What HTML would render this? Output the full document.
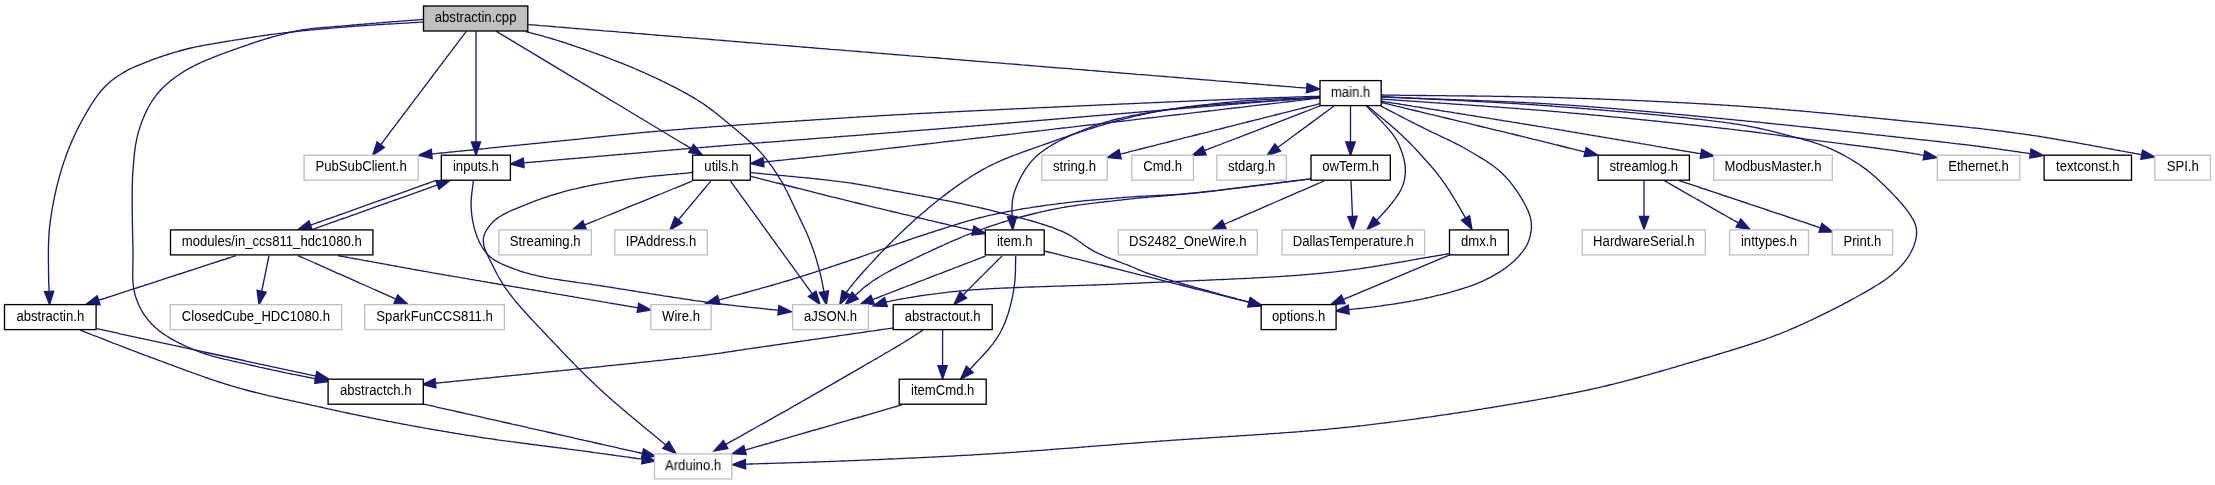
<!DOCTYPE html>
<html><head><meta charset="utf-8"><style>html,body{margin:0;padding:0;background:#fff;width:2215px;height:485px;overflow:hidden}svg{display:block;will-change:transform}text{font-family:"Liberation Sans",sans-serif;font-size:13.33px;fill:#000}</style></head><body>
<svg width="2215" height="485" viewBox="0 0 2215 485">
<g fill="none" stroke="#191970" stroke-width="1.33">
<path d="M423.5,22 421.5,22.1 419.5,22.2 417.5,22.4 415.5,22.5 413.5,22.6 411.5,22.7 409.5,22.8 407.5,23 405.5,23.1 403.5,23.2 401.5,23.3 399.5,23.4 397.5,23.5 395.5,23.7 393.5,23.8 391.5,23.9 389.5,24 387.5,24.1 385.5,24.2 383.5,24.4 381.5,24.5 379.5,24.6 377.5,24.7 375.5,24.8 373.5,25 371.5,25.1 369.5,25.2 367.5,25.4 365.5,25.5 363.5,25.6 361.5,25.8 359.5,25.9 357.5,26 355.5,26.2 353.5,26.3 351.5,26.5 349.5,26.6 347.5,26.8 345.5,27 343.5,27.1 341.5,27.3 339.6,27.4 337.6,27.6 335.6,27.8 333.6,27.9 331.6,28.1 329.6,28.3 327.6,28.5 325.6,28.6 323.6,28.8 321.6,29 319.6,29.2 317.6,29.4 315.6,29.6 313.6,29.8 311.6,29.9 309.6,30.1 307.6,30.3 305.6,30.5 303.6,30.7 301.7,30.9 299.7,31.1 297.7,31.4 295.7,31.6 293.7,31.8 291.7,32 289.7,32.2 287.7,32.5 285.7,32.7 283.7,32.9 281.8,33.2 279.8,33.4 277.8,33.7 275.8,33.9 273.8,34.2 271.8,34.4 269.8,34.7 267.8,35 265.9,35.3 263.9,35.5 261.9,35.8 259.9,36.1 257.9,36.4 256,36.7 254,37 252,37.3 250,37.7 248,38 246.1,38.3 244.1,38.6 242.1,39 240.1,39.3 238.2,39.6 236.2,39.9 234.2,40.2 232.2,40.6 230.3,40.9 228.3,41.2 226.3,41.5 224.3,41.8 222.3,42.1 220.4,42.5 218.4,42.8 216.4,43.1 214.4,43.5 212.5,43.8 210.5,44.1 208.5,44.5 206.5,44.8 204.6,45.2 202.6,45.6 200.6,46 198.7,46.3 196.7,46.7 194.8,47.2 192.8,47.6 190.8,48 188.9,48.5 186.9,49 185,49.5 183.1,50 181.1,50.5 179.2,51 177.3,51.6 175.4,52.1 173.4,52.7 171.5,53.3 169.6,53.9 167.7,54.5 165.8,55.1 163.9,55.7 162,56.4 160.1,57 158.2,57.7 156.3,58.4 154.4,59 152.6,59.7 150.7,60.4 148.8,61.1 146.9,61.8 145.1,62.6 143.2,63.3 141.4,64.1 139.5,64.8 137.7,65.6 135.8,66.4 134,67.2 132.1,68 130.3,68.9 128.5,69.7 126.8,70.7 125,71.6 123.3,72.6 121.6,73.7 119.9,74.7 118.2,75.8 116.6,77 114.9,78.1 113.3,79.3 111.7,80.5 110.2,81.8 108.7,83.1 107.2,84.5 105.4,86.2 103.7,88 102.3,89.5 101,91 99.7,92.5 98.5,94.1 97.3,95.7 96.1,97.3 95,99 93.9,100.6 92.8,102.3 91.7,104 90.6,105.7 89.5,107.4 88.5,109.1 87.5,110.8 86.5,112.6 85.5,114.3 84.5,116 83.5,117.8 82.6,119.5 81.6,121.3 80.7,123.1 79.7,124.8 78.8,126.6 77.9,128.4 77,130.2 76.1,132 75.3,133.8 74.4,135.6 73.6,137.4 72.8,139.3 71.9,141.1 71.1,142.9 70.4,144.8 69.6,146.6 68.9,148.5 68.1,150.3 67.4,152.2 66.7,154.1 66,156 65.3,157.9 64.7,159.7 64,161.6 63.4,163.5 62.7,165.4 62.1,167.3 61.5,169.3 61,171.2 60.4,173.1 59.8,175 59.3,177 58.8,178.9 58.3,180.8 57.8,182.8 57.3,184.7 56.8,186.7 56.3,188.6 55.9,190.6 55.5,192.5 55,194.5 54.6,196.4 54.2,198.4 53.8,200.3 53.4,202.3 53,204.3 52.7,206.2 52.3,208.2 52,210.2 51.7,212.2 51.4,214.1 51,216.1 50.8,218.1 50.5,220.1 50.2,222.1 50,224.1 49.7,226.1 49.5,228 49.3,230 49.1,232 49,234 48.9,236 48.7,238 48.7,240 48.6,242 48.5,244 48.5,246 48.4,248 48.4,250 48.4,252 48.4,254 48.4,256 48.4,258 48.4,260.1 48.4,262.1 48.5,264.1 48.5,266.1 48.5,268.1 48.5,270.1 48.5,272.1 48.6,274.1 48.6,276.1 48.6,278.1 48.7,280.1 48.7,282.1 48.8,284.1 48.9,286.1 49,288.1 49,290.1 49.1,291.3"/><path d="M423.5,19.3 421.5,19.5 419.5,19.6 417.5,19.8 415.5,20 413.5,20.1 411.5,20.3 409.5,20.4 407.5,20.6 405.5,20.8 403.5,20.9 401.5,21.1 399.5,21.2 397.5,21.4 395.6,21.6 393.6,21.7 391.6,21.9 389.6,22 387.6,22.2 385.6,22.4 383.6,22.5 381.6,22.7 379.6,22.8 377.6,23 375.6,23.2 373.6,23.3 371.6,23.5 369.6,23.7 367.6,23.8 365.6,24 363.6,24.2 361.6,24.3 359.6,24.5 357.6,24.7 355.6,24.9 353.6,25 351.6,25.2 349.6,25.4 347.7,25.6 345.7,25.7 343.7,25.9 341.7,26.1 339.7,26.2 337.7,26.4 335.7,26.5 333.7,26.7 331.7,26.8 329.7,27 327.7,27.1 325.7,27.3 323.7,27.4 321.7,27.6 319.7,27.8 317.7,28 315.7,28.2 313.7,28.4 311.7,28.6 309.7,28.8 307.8,29.1 305.8,29.4 303.8,29.7 301.8,30 299.9,30.4 297.9,30.7 295.9,31.1 294,31.5 292,32 290.1,32.4 288.1,32.8 286.2,33.3 284.2,33.8 282.3,34.3 280.3,34.8 278.4,35.3 276.5,35.8 274.5,36.4 272.6,36.9 270.7,37.5 268.8,38 266.8,38.6 264.9,39.2 263,39.8 261.1,40.4 259.2,41 257.3,41.6 255.4,42.2 253.5,42.9 251.6,43.5 249.7,44.1 247.8,44.8 245.9,45.4 244,46.1 242.1,46.8 240.2,47.4 238.3,48.1 236.5,48.8 234.6,49.4 232.7,50.1 230.8,50.8 228.9,51.5 227,52.2 225.2,52.8 223.3,53.5 221.4,54.2 219.5,54.9 217.7,55.7 215.8,56.4 213.9,57.1 212.1,57.9 210.2,58.6 208.3,59.4 206.5,60.1 204.7,60.9 202.8,61.7 201,62.5 199.2,63.4 197.4,64.2 195.6,65.1 193.8,66 192,66.9 190.2,67.8 188.5,68.8 186.7,69.8 185,70.8 183.3,71.9 181.6,73 179.9,74.1 178.3,75.2 176.6,76.3 175,77.5 173.4,78.7 171.8,79.9 170.3,81.1 168.7,82.4 167.2,83.7 165.7,85.1 164.2,86.4 162.8,87.8 161.4,89.3 160.1,90.7 158.7,92.2 157.4,93.7 156.2,95.3 155,96.9 153.8,98.5 152.6,100.2 151.6,101.8 150.5,103.5 149.5,105.3 148.5,107 147.6,108.8 146.7,110.6 145.8,112.4 145,114.2 144.2,116 143.4,117.9 142.6,119.7 141.9,121.6 141.2,123.5 140.6,125.4 139.9,127.2 139.3,129.2 138.7,131.1 138.2,133 137.7,134.9 137.2,136.9 136.8,138.8 136.4,140.8 136,142.8 135.6,144.7 135.3,146.7 135.1,148.7 134.8,150.7 134.5,152.7 134.3,154.6 134.1,156.6 133.9,158.6 133.8,160.6 133.6,162.6 133.4,164.6 133.3,166.6 133.1,168.6 133,170.6 132.8,172.6 132.7,174.6 132.6,176.6 132.5,178.6 132.5,180.6 132.4,182.6 132.3,184.6 132.3,186.6 132.2,188.6 132.2,190.6 132.2,192.6 132.2,194.6 132.2,196.6 132.2,198.6 132.2,200.6 132.2,202.6 132.2,204.6 132.2,206.6 132.2,208.6 132.2,210.6 132.2,212.7 132.3,214.7 132.3,216.7 132.3,218.7 132.4,220.7 132.4,222.7 132.4,224.7 132.5,226.7 132.5,228.7 132.6,230.7 132.6,232.7 132.6,234.7 132.7,236.7 132.7,238.7 132.8,240.7 132.8,242.7 132.9,244.7 132.9,246.7 133,248.7 133,250.7 133,252.7 133,254.7 133,256.7 133,258.7 133,260.7 132.9,262.7 132.9,264.7 132.8,266.7 132.8,268.7 132.8,270.7 132.7,272.7 132.7,274.7 132.8,276.7 132.8,278.7 132.9,280.7 133,282.7 133.2,284.7 133.5,287.2 133.9,289.7 134.4,292.1 135,294.5 135.7,296.9 136.5,299.3 137.4,301.6 138.3,303.9 139.4,306.2 140.5,308.5 141.7,310.6 143,312.8 144.3,314.9 145.8,316.9 147.3,318.9 148.9,320.9 150.5,322.7 152.2,324.6 154,326.3 155.9,328 157.8,329.6 159.3,330.9 160.9,332.1 162.5,333.2 164.2,334.4 165.9,335.5 167.6,336.5 169.3,337.6 171,338.6 172.7,339.6 174.5,340.6 176.3,341.5 178,342.4 179.8,343.3 181.6,344.2 183.4,345.1 185.2,345.9 187.1,346.8 188.9,347.6 190.7,348.4 192.6,349.2 194.4,349.9 196.3,350.7 198.1,351.4 200,352.1 201.9,352.8 203.8,353.4 205.7,354 207.6,354.6 209.5,355.2 211.4,355.8 213.4,356.3 215.3,356.8 217.2,357.3 219.2,357.8 221.1,358.3 223.1,358.8 225,359.3 227,359.7 228.9,360.2 230.9,360.6 232.8,361.1 234.8,361.5 236.7,361.9 238.7,362.4 240.6,362.8 242.6,363.2 244.6,363.7 246.5,364.1 248.5,364.6 250.4,365 252.4,365.5 254.3,365.9 256.3,366.4 258.2,366.8 260.2,367.3 262.1,367.7 264.1,368.1 266,368.6 268,369 269.9,369.4 271.9,369.9 273.9,370.3 275.8,370.7 277.8,371.1 279.7,371.5 281.7,371.9 283.7,372.3 285.6,372.8 287.6,373.2 289.5,373.6 291.5,374 293.5,374.4 295.4,374.7 297.4,375.1 299.4,375.5 301.3,375.9 303.3,376.3 305.2,376.7 307.2,377.1 309.2,377.5 311.1,377.9 313.1,378.3 315.1,378.7 315.8,378.8"/><path d="M466.4,31.2 465,33.1 463.6,34.9 462.2,36.8 460.7,38.7 459.3,40.6 457.9,42.4 456.5,44.3 455.1,46.2 453.7,48 452.3,49.9 450.9,51.8 449.4,53.7 448,55.5 446.6,57.4 445.2,59.3 443.8,61.1 442.4,63 441,64.9 439.6,66.7 438.1,68.6 436.7,70.5 435.3,72.4 433.9,74.2 432.5,76.1 431.1,78 429.7,79.8 428.3,81.7 426.8,83.6 425.4,85.5 424,87.3 422.6,89.2 421.2,91.1 419.8,92.9 418.4,94.8 417,96.7 415.5,98.6 414.1,100.4 412.7,102.3 411.3,104.2 409.9,106 408.5,107.9 407.1,109.8 405.7,111.6 404.2,113.5 402.8,115.4 401.4,117.3 400,119.1 398.6,121 397.2,122.9 395.8,124.7 394.4,126.6 392.9,128.5 391.5,130.4 390.1,132.2 388.7,134.1 387.3,136 385.9,137.8 384.5,139.7 383.1,141.6 381.6,143.5 380.7,144.7"/><path d="M476,31.2 476,33.7 476,36.2 476,38.7 476,41.2 476,43.7 476,46.2 476,48.7 476,51.2 476,53.7 476,56.1 476,58.6 476,61.1 476,63.6 476,66.1 476,68.6 476,71.1 476,73.6 476,76.1 476,78.6 476,81.1 476,83.6 476,86.1 476,88.6 476,91.1 476,93.6 476,96.1 476,98.6 476,101 476,103.5 476,106 476,108.5 476,111 476,113.5 476,116 476,118.5 476,121 476,123.5 476,126 476,128.5 476,131 476,133.5 476,136 476,138.5 476,141 476,142"/><path d="M496.1,31.2 498.2,32.4 500.2,33.7 502.3,34.9 504.4,36.2 506.5,37.4 508.5,38.7 510.6,39.9 512.7,41.2 514.8,42.4 516.8,43.7 518.9,44.9 521,46.2 523.1,47.4 525.1,48.7 527.2,49.9 529.3,51.2 531.4,52.4 533.4,53.7 535.5,54.9 537.6,56.1 539.7,57.4 541.7,58.6 543.8,59.9 545.9,61.1 548,62.4 550,63.6 552.1,64.9 554.2,66.1 556.3,67.4 558.3,68.6 560.4,69.9 562.5,71.1 564.6,72.4 566.6,73.6 568.7,74.9 570.8,76.1 572.9,77.3 574.9,78.6 577,79.8 579.1,81.1 581.1,82.3 583.2,83.6 585.3,84.8 587.4,86.1 589.4,87.3 591.5,88.6 593.6,89.8 595.7,91.1 597.7,92.3 599.8,93.6 601.9,94.8 604,96.1 606,97.3 608.1,98.6 610.2,99.8 612.3,101 614.3,102.3 616.4,103.5 618.5,104.8 620.6,106 622.6,107.3 624.7,108.5 626.8,109.8 628.9,111 630.9,112.3 633,113.5 635.1,114.8 637.2,116 639.2,117.3 641.3,118.5 643.4,119.8 645.5,121 647.5,122.2 649.6,123.5 651.7,124.7 653.8,126 655.8,127.2 657.9,128.5 660,129.7 662,131 664.1,132.2 666.2,133.5 668.3,134.7 670.3,136 672.4,137.2 674.5,138.5 676.6,139.7 678.6,141 680.7,142.2 682.8,143.5 684.9,144.7 686.9,145.9 689,147.2 691.1,148.4 691.1,148.4"/><path d="M525.8,31.5 527.7,32 529.7,32.6 531.6,33.1 533.5,33.6 535.5,34.1 537.4,34.7 539.3,35.2 541.3,35.7 543.2,36.2 545.1,36.8 547,37.3 549,37.8 550.9,38.4 552.8,39 554.7,39.6 556.6,40.2 558.6,40.8 560.5,41.4 562.4,42 564.3,42.6 566.2,43.2 568.1,43.9 570,44.5 571.9,45.1 573.8,45.8 575.7,46.4 577.6,47.1 579.5,47.7 581.3,48.4 583.2,49 585.1,49.7 587,50.3 588.9,51 590.8,51.7 592.7,52.3 594.6,53 596.4,53.7 598.3,54.4 600.2,55.1 602.1,55.7 604,56.4 605.8,57.1 607.7,57.8 609.6,58.5 611.5,59.3 613.3,60 615.2,60.7 617.1,61.4 618.9,62.2 620.8,62.9 622.7,63.6 624.5,64.4 626.4,65.1 628.2,65.9 630.1,66.7 631.9,67.4 633.8,68.2 635.6,69 637.4,69.8 639.3,70.6 641.1,71.4 642.9,72.2 644.8,73 646.6,73.9 648.4,74.7 650.2,75.5 652.1,76.4 653.9,77.2 655.7,78 657.5,78.9 659.3,79.7 661.1,80.6 662.9,81.5 664.7,82.3 666.5,83.2 668.3,84.1 670.1,85 671.9,85.9 673.7,86.8 675.5,87.7 677.2,88.7 679,89.6 680.8,90.5 682.5,91.5 684.3,92.4 686.1,93.4 687.8,94.4 689.5,95.4 691.3,96.4 693,97.4 694.7,98.4 696.4,99.5 698.1,100.5 699.8,101.6 701.5,102.7 703.2,103.8 704.8,104.9 706.4,106.1 708.1,107.2 709.7,108.4 711.3,109.6 712.9,110.8 714.5,112.1 716.1,113.3 717.6,114.5 719.2,115.8 720.7,117.1 722.3,118.3 723.8,119.6 725.4,120.9 726.9,122.1 728.5,123.4 730,124.7 731.5,126 733.1,127.3 734.6,128.5 736.2,129.8 737.7,131.1 739.2,132.4 740.8,133.7 742.3,135 743.8,136.3 745.3,137.6 746.8,138.9 748.3,140.2 749.8,141.6 751.3,143 752.7,144.3 754.2,145.7 755.6,147.1 757,148.5 758.4,150 759.8,151.4 761.1,152.9 762.4,154.4 763.7,155.9 765,157.5 766.3,159 767.5,160.6 768.7,162.2 769.9,163.8 771.1,165.4 772.3,167 773.4,168.7 774.5,170.4 775.6,172 776.7,173.7 777.8,175.4 778.9,177.1 779.9,178.8 780.9,180.5 782,182.2 783,184 783.9,185.7 784.9,187.5 785.8,189.3 786.7,191 787.6,192.8 788.5,194.6 789.4,196.4 790.2,198.2 791.1,200 791.9,201.9 792.8,203.7 793.6,205.5 794.5,207.3 795.3,209.1 796.2,210.9 797.1,212.7 797.9,214.5 798.8,216.3 799.7,218.1 800.5,219.9 801.4,221.7 802.3,223.5 803.1,225.4 804,227.2 804.8,229 805.7,230.8 806.5,232.6 807.3,234.5 808.1,236.3 808.8,238.2 809.6,240 810.3,241.9 811,243.7 811.7,245.6 812.4,247.5 813.1,249.4 813.7,251.3 814.4,253.2 815,255.1 815.6,257 816.2,258.9 816.8,260.8 817.3,262.7 817.9,264.7 818.4,266.6 818.9,268.5 819.4,270.5 819.9,272.4 820.4,274.4 820.9,276.3 821.3,278.3 821.7,280.2 822.1,282.2 822.5,284.1 822.9,286.1 823.3,288.1 823.6,290 824,292 824,291.7"/><path d="M528.3,24.6 532.3,24.9 536.3,25.2 540.2,25.6 544.2,25.9 548.2,26.2 552.2,26.5 556.1,26.9 560.1,27.2 564.1,27.5 568.1,27.8 572.1,28.2 576,28.5 580,28.8 584,29.1 588,29.5 592,29.8 595.9,30.1 599.9,30.4 603.9,30.8 607.9,31.1 611.8,31.4 615.8,31.7 619.8,32.1 623.8,32.4 627.8,32.7 631.7,33 635.7,33.4 639.7,33.7 643.7,34 647.7,34.3 651.6,34.7 655.6,35 659.6,35.3 663.6,35.6 667.5,36 671.5,36.3 675.5,36.6 679.5,36.9 683.5,37.3 687.4,37.6 691.4,37.9 695.4,38.2 699.4,38.6 703.3,38.9 707.3,39.2 711.3,39.5 715.3,39.9 719.3,40.2 723.2,40.5 727.2,40.8 731.2,41.2 735.2,41.5 739.2,41.8 743.1,42.1 747.1,42.5 751.1,42.8 755.1,43.1 759,43.4 763,43.8 767,44.1 771,44.4 775,44.7 778.9,45.1 782.9,45.4 786.9,45.7 790.9,46 794.9,46.3 798.8,46.7 802.8,47 806.8,47.3 810.8,47.6 814.7,48 818.7,48.3 822.7,48.6 826.7,48.9 830.7,49.3 834.6,49.6 838.6,49.9 842.6,50.2 846.6,50.6 850.5,50.9 854.5,51.2 858.5,51.5 862.5,51.9 866.5,52.2 870.4,52.5 874.4,52.8 878.4,53.2 882.4,53.5 886.4,53.8 890.3,54.1 894.3,54.5 898.3,54.8 902.3,55.1 906.2,55.4 910.2,55.8 914.2,56.1 918.2,56.4 922.2,56.7 926.1,57.1 930.1,57.4 934.1,57.7 938.1,58 942.1,58.4 946,58.7 950,59 954,59.3 958,59.7 961.9,60 965.9,60.3 969.9,60.6 973.9,61 977.9,61.3 981.8,61.6 985.8,61.9 989.8,62.3 993.8,62.6 997.8,62.9 1001.7,63.2 1005.7,63.6 1009.7,63.9 1013.7,64.2 1017.6,64.5 1021.6,64.9 1025.6,65.2 1029.6,65.5 1033.6,65.8 1037.5,66.2 1041.5,66.5 1045.5,66.8 1049.5,67.1 1053.4,67.5 1057.4,67.8 1061.4,68.1 1065.4,68.4 1069.4,68.7 1073.3,69.1 1077.3,69.4 1081.3,69.7 1085.3,70 1089.3,70.4 1093.2,70.7 1097.2,71 1101.2,71.3 1105.2,71.7 1109.1,72 1113.1,72.3 1117.1,72.6 1121.1,73 1125.1,73.3 1129,73.6 1133,73.9 1137,74.3 1141,74.6 1145,74.9 1148.9,75.2 1152.9,75.6 1156.9,75.9 1160.9,76.2 1164.8,76.5 1168.8,76.9 1172.8,77.2 1176.8,77.5 1180.8,77.8 1184.7,78.2 1188.7,78.5 1192.7,78.8 1196.7,79.1 1200.6,79.5 1204.6,79.8 1208.6,80.1 1212.6,80.4 1216.6,80.8 1220.5,81.1 1224.5,81.4 1228.5,81.7 1232.5,82.1 1236.5,82.4 1240.4,82.7 1244.4,83 1248.4,83.4 1252.4,83.7 1256.3,84 1260.3,84.3 1264.3,84.7 1268.3,85 1272.3,85.3 1276.2,85.6 1280.2,86 1284.2,86.3 1288.2,86.6 1292.2,86.9 1296.1,87.3 1300.1,87.6 1304.1,87.9 1308.1,88.2 1306.7,88.1"/><path d="M1320,96.2 1318,96.3 1316,96.3 1314,96.4 1312,96.5 1310,96.5 1308,96.6 1306,96.7 1304,96.7 1302,96.8 1300,96.9 1298,96.9 1296,97 1294,97.1 1292,97.1 1290,97.2 1288,97.3 1286,97.3 1284,97.4 1282,97.5 1280,97.5 1278,97.6 1276,97.7 1274,97.7 1272,97.8 1270,97.9 1268,97.9 1266,98 1264,98.1 1262,98.2 1260,98.2 1258,98.3 1256,98.4 1254,98.5 1252,98.5 1250,98.6 1248,98.7 1246,98.8 1244,98.8 1242,98.9 1240,99 1238,99.1 1236,99.2 1234,99.2 1232,99.3 1230,99.4 1228,99.5 1226,99.6 1224,99.7 1222,99.7 1220,99.8 1218,99.9 1216,100 1214,100.1 1212,100.2 1210,100.2 1208,100.3 1206,100.4 1204,100.5 1202,100.6 1200,100.7 1198,100.7 1196,100.8 1194,100.9 1192,101 1190,101.1 1188,101.2 1186,101.3 1184,101.3 1182,101.4 1180,101.5 1178,101.6 1176,101.7 1174,101.8 1172,101.9 1170,101.9 1168,102 1166,102.1 1164,102.2 1162,102.3 1160,102.4 1158,102.5 1156,102.5 1154,102.6 1152,102.7 1150,102.8 1148,102.9 1146,103 1144,103.1 1142,103.2 1140,103.2 1138,103.3 1136,103.4 1134,103.5 1132,103.6 1130,103.7 1128,103.8 1126,103.9 1124,103.9 1122,104 1120,104.1 1118,104.2 1116,104.3 1114,104.4 1112,104.5 1110,104.6 1108,104.7 1106,104.7 1104,104.8 1102,104.9 1100,105 1098,105.1 1096,105.2 1094,105.3 1092,105.4 1090,105.5 1088,105.6 1086,105.6 1084,105.7 1082,105.8 1080,105.9 1078,106 1076,106.1 1074,106.2 1072,106.3 1070,106.4 1068,106.5 1066,106.5 1064,106.6 1062,106.7 1060,106.8 1058,106.9 1056,107 1054,107.1 1052,107.2 1050,107.3 1048,107.4 1046,107.5 1044,107.5 1042,107.6 1040,107.7 1038,107.8 1036,107.9 1034,108 1032,108.1 1030,108.2 1028,108.3 1026,108.4 1024,108.5 1022,108.6 1020,108.7 1018,108.7 1016,108.8 1014,108.9 1012,109 1010,109.1 1008,109.2 1006,109.3 1004,109.4 1002,109.5 1000,109.6 998,109.7 996,109.8 994,109.9 992,110 990,110.1 988,110.2 986,110.2 984,110.3 982,110.4 980,110.5 978,110.6 976,110.7 974,110.8 972,110.9 970,111 968,111.1 966,111.2 964,111.3 962.1,111.4 960.1,111.5 958.1,111.6 956.1,111.7 954.1,111.8 952.1,111.9 950.1,112 948.1,112.1 946.1,112.2 944.1,112.3 942.1,112.4 940.1,112.5 938.1,112.6 936.1,112.7 934.1,112.8 932.1,112.9 930.1,113 928.1,113.1 926.1,113.2 924.1,113.3 922.1,113.4 920.1,113.5 918.1,113.6 916.1,113.7 914.1,113.8 912.1,113.9 910.1,114 908.1,114.2 906.1,114.3 904.1,114.4 902.1,114.5 900.1,114.6 898.1,114.7 896.1,114.8 894.1,114.9 892.1,115 890.1,115.1 888.1,115.3 886.1,115.4 884.1,115.5 882.1,115.6 880.1,115.7 878.1,115.8 876.1,116 874.1,116.1 872.1,116.2 870.1,116.3 868.1,116.4 866.1,116.6 864.1,116.7 862.1,116.8 860.1,116.9 858.1,117 856.1,117.2 854.1,117.3 852.1,117.4 850.1,117.5 848.1,117.7 846.1,117.8 844.1,117.9 842.1,118.1 840.1,118.2 838.1,118.3 836.2,118.4 834.2,118.6 832.2,118.7 830.2,118.8 828.2,119 826.2,119.1 824.2,119.2 822.2,119.3 820.2,119.5 818.2,119.6 816.2,119.7 814.2,119.9 812.2,120 810.2,120.1 808.2,120.3 806.2,120.4 804.2,120.5 802.2,120.6 800.2,120.8 798.2,120.9 796.2,121 794.2,121.2 792.2,121.3 790.2,121.4 788.2,121.6 786.2,121.7 784.2,121.8 782.2,122 780.2,122.1 778.2,122.2 776.2,122.4 774.2,122.5 772.2,122.7 770.2,122.8 768.2,122.9 766.3,123.1 764.3,123.2 762.3,123.3 760.3,123.5 758.3,123.6 756.3,123.8 754.3,123.9 752.3,124 750.3,124.2 748.3,124.3 746.3,124.4 744.3,124.6 742.3,124.7 740.3,124.9 738.3,125 736.3,125.1 734.3,125.3 732.3,125.4 730.3,125.6 728.3,125.7 726.3,125.9 724.3,126 722.3,126.2 720.3,126.3 718.3,126.4 716.3,126.6 714.3,126.7 712.3,126.9 710.3,127 708.4,127.2 706.4,127.3 704.4,127.5 702.4,127.6 700.4,127.8 698.4,127.9 696.4,128.1 694.4,128.2 692.4,128.4 690.4,128.5 688.4,128.7 686.4,128.9 684.4,129 682.4,129.2 680.4,129.3 678.4,129.5 676.4,129.6 674.4,129.8 672.4,130 670.4,130.1 668.4,130.3 666.4,130.5 664.5,130.6 662.5,130.8 660.5,131 658.5,131.1 656.5,131.3 654.5,131.5 652.5,131.7 650.5,131.8 648.5,132 646.5,132.2 644.5,132.4 642.5,132.6 640.5,132.7 638.5,132.9 636.5,133.1 634.6,133.3 632.6,133.5 630.6,133.7 628.6,133.9 626.6,134.1 624.6,134.3 622.6,134.5 620.6,134.7 618.6,134.9 616.6,135.1 614.6,135.3 612.6,135.5 610.7,135.7 608.7,135.9 606.7,136.1 604.7,136.3 602.7,136.5 600.7,136.8 598.7,137 596.7,137.2 594.7,137.4 592.7,137.6 590.7,137.8 588.8,138 586.8,138.2 584.8,138.4 582.8,138.6 580.8,138.9 578.8,139.1 576.8,139.3 574.8,139.5 572.8,139.7 570.8,139.9 568.8,140.1 566.9,140.3 564.9,140.5 562.9,140.7 560.9,140.9 558.9,141.1 556.9,141.3 554.9,141.5 552.9,141.7 550.9,141.9 548.9,142.1 546.9,142.3 545,142.5 543,142.7 541,142.9 539,143.1 537,143.3 535,143.5 533,143.7 531,143.9 529,144.1 527,144.3 525,144.5 523,144.7 521.1,144.9 519.1,145.1 517.1,145.3 515.1,145.5 513.1,145.7 511.1,145.9 509.1,146.1 507.1,146.3 505.1,146.5 503.1,146.7 501.1,146.9 499.2,147.1 497.2,147.3 495.2,147.5 493.2,147.7 491.2,147.9 489.2,148.1 487.2,148.3 485.2,148.6 483.2,148.8 481.2,149 479.2,149.2 477.2,149.4 475.3,149.6 473.3,149.8 471.3,150 469.3,150.2 467.3,150.4 465.3,150.6 463.3,150.8 461.3,151 459.3,151.2 457.3,151.4 455.3,151.6 453.3,151.8 451.4,152 449.4,152.2 447.4,152.4 445.4,152.6 443.4,152.8 441.4,153 439.4,153.2 437.4,153.4 435.4,153.6 433.4,153.8 431.4,154 431.7,154"/><path d="M1320,97 1318,97.2 1316,97.3 1314,97.5 1312,97.7 1310,97.8 1308,98 1306,98.2 1304,98.3 1302,98.5 1300,98.7 1298.1,98.8 1296.1,99 1294.1,99.2 1292.1,99.3 1290.1,99.5 1288.1,99.7 1286.1,99.8 1284.1,100 1282.1,100.2 1280.1,100.3 1278.1,100.5 1276.1,100.7 1274.1,100.8 1272.1,101 1270.1,101.2 1268.1,101.3 1266.1,101.5 1264.1,101.7 1262.1,101.8 1260.1,102 1258.1,102.2 1256.2,102.3 1254.2,102.5 1252.2,102.7 1250.2,102.8 1248.2,103 1246.2,103.2 1244.2,103.3 1242.2,103.5 1240.2,103.7 1238.2,103.8 1236.2,104 1234.2,104.2 1232.2,104.3 1230.2,104.5 1228.2,104.7 1226.2,104.8 1224.2,105 1222.2,105.2 1220.2,105.3 1218.2,105.5 1216.3,105.7 1214.3,105.8 1212.3,106 1210.3,106.2 1208.3,106.3 1206.3,106.5 1204.3,106.7 1202.3,106.9 1200.3,107 1198.3,107.2 1196.3,107.4 1194.3,107.5 1192.3,107.7 1190.3,107.9 1188.3,108 1186.3,108.2 1184.3,108.4 1182.3,108.5 1180.3,108.7 1178.3,108.9 1176.3,109 1174.4,109.2 1172.4,109.4 1170.4,109.5 1168.4,109.7 1166.4,109.9 1164.4,110 1162.4,110.2 1160.4,110.4 1158.4,110.5 1156.4,110.7 1154.4,110.9 1152.4,111 1150.4,111.2 1148.4,111.4 1146.4,111.5 1144.4,111.7 1142.4,111.9 1140.4,112 1138.4,112.2 1136.4,112.4 1134.4,112.5 1132.5,112.7 1130.5,112.9 1128.5,113 1126.5,113.2 1124.5,113.4 1122.5,113.5 1120.5,113.7 1118.5,113.9 1116.5,114 1114.5,114.2 1112.5,114.4 1110.5,114.5 1108.5,114.7 1106.5,114.9 1104.5,115 1102.5,115.2 1100.5,115.4 1098.5,115.5 1096.5,115.7 1094.5,115.9 1092.6,116 1090.6,116.2 1088.6,116.4 1086.6,116.5 1084.6,116.7 1082.6,116.9 1080.6,117 1078.6,117.2 1076.6,117.4 1074.6,117.5 1072.6,117.7 1070.6,117.9 1068.6,118 1066.6,118.2 1064.6,118.4 1062.6,118.5 1060.6,118.7 1058.6,118.9 1056.6,119 1054.6,119.2 1052.6,119.4 1050.7,119.5 1048.7,119.7 1046.7,119.9 1044.7,120 1042.7,120.2 1040.7,120.4 1038.7,120.5 1036.7,120.7 1034.7,120.9 1032.7,121 1030.7,121.2 1028.7,121.4 1026.7,121.5 1024.7,121.7 1022.7,121.9 1020.7,122 1018.7,122.2 1016.7,122.4 1014.7,122.5 1012.7,122.7 1010.7,122.9 1008.8,123 1006.8,123.2 1004.8,123.4 1002.8,123.5 1000.8,123.7 998.8,123.9 996.8,124 994.8,124.2 992.8,124.4 990.8,124.5 988.8,124.7 986.8,124.9 984.8,125 982.8,125.2 980.8,125.3 978.8,125.5 976.8,125.7 974.8,125.8 972.8,126 970.8,126.2 968.8,126.3 966.8,126.5 964.9,126.7 962.9,126.8 960.9,127 958.9,127.2 956.9,127.3 954.9,127.5 952.9,127.6 950.9,127.8 948.9,128 946.9,128.1 944.9,128.3 942.9,128.5 940.9,128.6 938.9,128.8 936.9,129 934.9,129.1 932.9,129.3 930.9,129.4 928.9,129.6 926.9,129.8 924.9,129.9 922.9,130.1 921,130.2 919,130.4 917,130.6 915,130.7 913,130.9 911,131 909,131.2 907,131.4 905,131.5 903,131.7 901,131.8 899,132 897,132.2 895,132.3 893,132.5 891,132.6 889,132.8 887,132.9 885,133.1 883,133.3 881,133.4 879,133.6 877,133.7 875,133.9 873.1,134 871.1,134.2 869.1,134.4 867.1,134.5 865.1,134.7 863.1,134.8 861.1,135 859.1,135.1 857.1,135.3 855.1,135.5 853.1,135.6 851.1,135.8 849.1,135.9 847.1,136.1 845.1,136.2 843.1,136.4 841.1,136.5 839.1,136.7 837.1,136.9 835.1,137 833.1,137.2 831.1,137.3 829.1,137.5 827.1,137.6 825.1,137.8 823.2,137.9 821.2,138.1 819.2,138.2 817.2,138.4 815.2,138.6 813.2,138.7 811.2,138.9 809.2,139 807.2,139.2 805.2,139.3 803.2,139.5 801.2,139.6 799.2,139.8 797.2,139.9 795.2,140.1 793.2,140.2 791.2,140.4 789.2,140.5 787.2,140.7 785.2,140.8 783.2,141 781.2,141.1 779.2,141.3 777.2,141.5 775.2,141.6 773.2,141.8 771.2,141.9 769.2,142.1 767.3,142.2 765.3,142.4 763.3,142.5 761.3,142.7 759.3,142.8 757.3,143 755.3,143.2 753.3,143.3 751.3,143.5 749.3,143.6 747.3,143.8 745.3,143.9 743.3,144.1 741.3,144.3 739.3,144.4 737.3,144.6 735.3,144.7 733.3,144.9 731.3,145.1 729.3,145.2 727.3,145.4 725.3,145.5 723.3,145.7 721.3,145.9 719.4,146 717.4,146.2 715.4,146.4 713.4,146.5 711.4,146.7 709.4,146.9 707.4,147 705.4,147.2 703.4,147.3 701.4,147.5 699.4,147.7 697.4,147.8 695.4,148 693.4,148.2 691.4,148.4 689.4,148.5 687.4,148.7 685.4,148.9 683.4,149 681.4,149.2 679.4,149.4 677.5,149.5 675.5,149.7 673.5,149.9 671.5,150 669.5,150.2 667.5,150.4 665.5,150.6 663.5,150.7 661.5,150.9 659.5,151.1 657.5,151.2 655.5,151.4 653.5,151.6 651.5,151.8 649.5,151.9 647.5,152.1 645.5,152.3 643.5,152.4 641.5,152.6 639.6,152.8 637.6,153 635.6,153.1 633.6,153.3 631.6,153.5 629.6,153.6 627.6,153.8 625.6,154 623.6,154.2 621.6,154.3 619.6,154.5 617.6,154.7 615.6,154.9 613.6,155 611.6,155.2 609.6,155.4 607.6,155.6 605.6,155.7 603.6,155.9 601.7,156.1 599.7,156.2 597.7,156.4 595.7,156.6 593.7,156.8 591.7,156.9 589.7,157.1 587.7,157.3 585.7,157.5 583.7,157.6 581.7,157.8 579.7,158 577.7,158.2 575.7,158.3 573.7,158.5 571.7,158.7 569.7,158.9 567.7,159 565.8,159.2 563.8,159.4 561.8,159.6 559.8,159.7 557.8,159.9 555.8,160.1 553.8,160.2 551.8,160.4 549.8,160.6 547.8,160.8 545.8,160.9 543.8,161.1 541.8,161.3 539.8,161.5 537.8,161.6 535.8,161.8 533.8,162 531.8,162.1 529.8,162.3 527.9,162.5 525.9,162.7 523.9,162.8 523.7,162.9"/><path d="M1320,98 1318,98.2 1316,98.5 1314,98.7 1312,98.9 1310.1,99.2 1308.1,99.4 1306.1,99.6 1304.1,99.9 1302.1,100.1 1300.1,100.3 1298.1,100.6 1296.1,100.8 1294.1,101 1292.1,101.3 1290.2,101.5 1288.2,101.7 1286.2,102 1284.2,102.2 1282.2,102.4 1280.2,102.7 1278.2,102.9 1276.2,103.1 1274.2,103.3 1272.2,103.6 1270.3,103.8 1268.3,104 1266.3,104.3 1264.3,104.5 1262.3,104.7 1260.3,105 1258.3,105.2 1256.3,105.4 1254.3,105.7 1252.3,105.9 1250.4,106.1 1248.4,106.4 1246.4,106.6 1244.4,106.8 1242.4,107.1 1240.4,107.3 1238.4,107.5 1236.4,107.8 1234.4,108 1232.4,108.2 1230.5,108.5 1228.5,108.7 1226.5,108.9 1224.5,109.2 1222.5,109.4 1220.5,109.6 1218.5,109.9 1216.5,110.1 1214.5,110.3 1212.6,110.6 1210.6,110.8 1208.6,111 1206.6,111.3 1204.6,111.5 1202.6,111.7 1200.6,112 1198.6,112.2 1196.6,112.4 1194.6,112.7 1192.7,112.9 1190.7,113.1 1188.7,113.4 1186.7,113.6 1184.7,113.8 1182.7,114.1 1180.7,114.3 1178.7,114.5 1176.7,114.8 1174.7,115 1172.8,115.2 1170.8,115.5 1168.8,115.7 1166.8,115.9 1164.8,116.1 1162.8,116.4 1160.8,116.6 1158.8,116.8 1156.8,117.1 1154.8,117.3 1152.9,117.5 1150.9,117.8 1148.9,118 1146.9,118.2 1144.9,118.5 1142.9,118.7 1140.9,118.9 1138.9,119.2 1136.9,119.4 1135,119.6 1133,119.9 1131,120.1 1129,120.3 1127,120.6 1125,120.8 1123,121 1121,121.3 1119,121.5 1117,121.7 1115.1,122 1113.1,122.2 1111.1,122.4 1109.1,122.7 1107.1,122.9 1105.1,123.1 1103.1,123.4 1101.1,123.6 1099.1,123.8 1097.1,124.1 1095.2,124.3 1093.2,124.5 1091.2,124.8 1089.2,125 1087.2,125.2 1085.2,125.5 1083.2,125.7 1081.2,125.9 1079.2,126.2 1077.2,126.4 1075.3,126.6 1073.3,126.9 1071.3,127.1 1069.3,127.3 1067.3,127.6 1065.3,127.8 1063.3,128 1061.3,128.2 1059.3,128.5 1057.3,128.7 1055.4,128.9 1053.4,129.2 1051.4,129.4 1049.4,129.6 1047.4,129.9 1045.4,130.1 1043.4,130.3 1041.4,130.6 1039.4,130.8 1037.5,131 1035.5,131.3 1033.5,131.5 1031.5,131.7 1029.5,132 1027.5,132.2 1025.5,132.4 1023.5,132.7 1021.5,132.9 1019.5,133.1 1017.6,133.4 1015.6,133.6 1013.6,133.8 1011.6,134.1 1009.6,134.3 1007.6,134.5 1005.6,134.8 1003.6,135 1001.6,135.2 999.6,135.5 997.7,135.7 995.7,135.9 993.7,136.1 991.7,136.4 989.7,136.6 987.7,136.8 985.7,137.1 983.7,137.3 981.7,137.5 979.7,137.8 977.8,138 975.8,138.2 973.8,138.5 971.8,138.7 969.8,138.9 967.8,139.2 965.8,139.4 963.8,139.6 961.8,139.9 959.8,140.1 957.9,140.3 955.9,140.6 953.9,140.8 951.9,141 949.9,141.2 947.9,141.5 945.9,141.7 943.9,141.9 941.9,142.2 939.9,142.4 938,142.6 936,142.9 934,143.1 932,143.3 930,143.6 928,143.8 926,144 924,144.3 922,144.5 920,144.7 918.1,145 916.1,145.2 914.1,145.4 912.1,145.7 910.1,145.9 908.1,146.1 906.1,146.4 904.1,146.6 902.1,146.8 900.1,147 898.2,147.3 896.2,147.5 894.2,147.7 892.2,148 890.2,148.2 888.2,148.4 886.2,148.7 884.2,148.9 882.2,149.1 880.3,149.4 878.3,149.6 876.3,149.8 874.3,150.1 872.3,150.3 870.3,150.5 868.3,150.7 866.3,151 864.3,151.2 862.3,151.4 860.3,151.7 858.4,151.9 856.4,152.1 854.4,152.3 852.4,152.5 850.4,152.8 848.4,153 846.4,153.2 844.4,153.4 842.4,153.7 840.4,153.9 838.4,154.1 836.5,154.3 834.5,154.5 832.5,154.8 830.5,155 828.5,155.2 826.5,155.4 824.5,155.6 822.5,155.8 820.5,156.1 818.5,156.3 816.5,156.5 814.5,156.7 812.6,156.9 810.6,157.1 808.6,157.3 806.6,157.5 804.6,157.8 802.6,158 800.6,158.2 798.6,158.4 796.6,158.6 794.6,158.8 792.6,159 790.6,159.2 788.7,159.4 786.7,159.7 784.7,159.9 782.7,160.1 780.7,160.3 778.7,160.5 776.7,160.7 774.7,160.9 772.7,161.1 770.7,161.3 768.7,161.5 766.7,161.8 764.7,162 763.5,162.1"/><path d="M1320,103.7 1317.9,104.2 1315.7,104.8 1313.6,105.3 1311.4,105.9 1309.3,106.4 1307.2,106.9 1305,107.5 1302.9,108 1300.8,108.6 1298.6,109.1 1296.5,109.6 1294.3,110.2 1292.2,110.7 1290.1,111.3 1287.9,111.8 1285.8,112.3 1283.6,112.9 1281.5,113.4 1279.4,114 1277.2,114.5 1275.1,115 1272.9,115.6 1270.8,116.1 1268.7,116.7 1266.5,117.2 1264.4,117.7 1262.3,118.3 1260.1,118.8 1258,119.4 1255.8,119.9 1253.7,120.4 1251.6,121 1249.4,121.5 1247.3,122 1245.1,122.6 1243,123.1 1240.9,123.7 1238.7,124.2 1236.6,124.7 1234.5,125.3 1232.3,125.8 1230.2,126.4 1228,126.9 1225.9,127.4 1223.8,128 1221.6,128.5 1219.5,129.1 1217.3,129.6 1215.2,130.1 1213.1,130.7 1210.9,131.2 1208.8,131.8 1206.6,132.3 1204.5,132.8 1202.4,133.4 1200.2,133.9 1198.1,134.5 1196,135 1193.8,135.5 1191.7,136.1 1189.5,136.6 1187.4,137.2 1185.3,137.7 1183.1,138.2 1181,138.8 1178.8,139.3 1176.7,139.9 1174.6,140.4 1172.4,140.9 1170.3,141.5 1168.2,142 1166,142.6 1163.9,143.1 1161.7,143.6 1159.6,144.2 1157.5,144.7 1155.3,145.3 1153.2,145.8 1151,146.3 1148.9,146.9 1146.8,147.4 1144.6,148 1142.5,148.5 1140.3,149 1138.2,149.6 1136.1,150.1 1133.9,150.7 1131.8,151.2 1129.7,151.7 1127.5,152.3 1125.4,152.8 1123.2,153.4 1121.1,153.9 1120.1,154.1"/><path d="M1320,106 1318.1,106.7 1316.1,107.5 1314.2,108.2 1312.3,109 1310.4,109.7 1308.4,110.5 1306.5,111.2 1304.6,112 1302.6,112.7 1300.7,113.4 1298.8,114.2 1296.8,114.9 1294.9,115.7 1293,116.4 1291.1,117.2 1289.1,117.9 1287.2,118.7 1285.3,119.4 1283.3,120.1 1281.4,120.9 1279.5,121.6 1277.5,122.4 1275.6,123.1 1273.7,123.9 1271.8,124.6 1269.8,125.4 1267.9,126.1 1266,126.9 1264,127.6 1262.1,128.3 1260.2,129.1 1258.3,129.8 1256.3,130.6 1254.4,131.3 1252.5,132.1 1250.5,132.8 1248.6,133.6 1246.7,134.3 1244.7,135 1242.8,135.8 1240.9,136.5 1239,137.3 1237,138 1235.1,138.8 1233.2,139.5 1231.2,140.3 1229.3,141 1227.4,141.7 1225.4,142.5 1223.5,143.2 1221.6,144 1219.7,144.7 1217.7,145.5 1215.8,146.2 1213.9,147 1211.9,147.7 1210,148.4 1208.1,149.2 1206.2,149.9 1204.2,150.7 1204.4,150.6"/><path d="M1334,106 1332.3,107.2 1330.6,108.5 1328.9,109.7 1327.3,111 1325.6,112.2 1323.9,113.4 1322.2,114.7 1320.5,115.9 1318.8,117.2 1317.2,118.4 1315.5,119.7 1313.8,120.9 1312.1,122.1 1310.4,123.4 1308.7,124.6 1307.1,125.9 1305.4,127.1 1303.7,128.3 1302,129.6 1300.3,130.8 1298.6,132.1 1297,133.3 1295.3,134.5 1293.6,135.8 1291.9,137 1290.2,138.3 1288.5,139.5 1286.9,140.8 1285.2,142 1283.5,143.2 1281.8,144.5 1280.1,145.7 1278.4,147 1277.7,147.5"/><path d="M1350.5,106 1350.5,108.2 1350.5,110.5 1350.5,112.7 1350.5,114.9 1350.5,117.1 1350.5,119.4 1350.5,121.6 1350.5,123.8 1350.5,126.1 1350.5,128.3 1350.5,130.5 1350.5,132.8 1350.5,135 1350.5,137.2 1350.5,139.4 1350.5,141.7 1350.5,142"/><path d="M1366.2,105.9 1367.6,107.3 1369.1,108.7 1370.5,110.2 1371.9,111.6 1373.3,113 1374.8,114.4 1376.2,115.8 1377.6,117.2 1379,118.7 1380.4,120.1 1381.8,121.6 1383.2,123.1 1384.5,124.6 1385.9,126.1 1387.2,127.6 1388.5,129.1 1389.8,130.6 1391.1,132.2 1392.4,133.8 1393.5,135.4 1394.7,137 1395.7,138.7 1396.8,140.5 1397.7,142.2 1398.6,144 1399.4,145.9 1400.2,147.7 1400.9,149.6 1401.6,151.5 1402.3,153.4 1402.9,155.3 1403.4,157.2 1403.9,159.2 1404.3,161.1 1404.7,163.1 1405,165.1 1405.2,167.1 1405.3,169.1 1405.4,171.1 1405.3,173.1 1405.1,175.1 1404.9,177.1 1404.5,179.1 1404.1,181 1403.6,183 1402.9,184.9 1402.2,186.7 1401.4,188.6 1400.6,190.4 1399.6,192.1 1398.6,193.9 1397.5,195.5 1396.3,197.2 1395.2,198.8 1394,200.4 1392.7,202 1391.5,203.6 1390.2,205.2 1388.9,206.7 1387.6,208.3 1386.3,209.8 1385,211.3 1383.7,212.8 1382.3,214.3 1380.9,215.8 1379.5,217.2 1378.1,218.7 1376.7,220.1 1376.5,220.3"/><path d="M1367.4,106 1368.9,107.3 1370.5,108.6 1372,109.8 1373.6,111.1 1375.2,112.4 1376.7,113.7 1378.3,115 1379.8,116.2 1381.4,117.5 1382.9,118.8 1384.5,120.1 1386,121.4 1387.6,122.6 1389.1,123.9 1390.6,125.2 1392.2,126.6 1393.7,127.9 1395.2,129.2 1396.7,130.6 1398.2,131.9 1399.6,133.3 1401.1,134.6 1402.6,136 1404,137.4 1405.5,138.8 1406.9,140.2 1408.4,141.6 1409.8,143 1411.2,144.5 1412.6,145.9 1414,147.4 1415.4,148.8 1416.7,150.3 1418.1,151.8 1419.5,153.2 1420.8,154.7 1422.2,156.2 1423.5,157.7 1424.9,159.2 1426.2,160.7 1427.6,162.2 1428.9,163.7 1430.2,165.2 1431.5,166.8 1432.8,168.3 1434.1,169.8 1435.4,171.4 1436.6,172.9 1437.9,174.5 1439.1,176.1 1440.4,177.7 1441.6,179.3 1442.7,180.9 1443.9,182.6 1445.1,184.2 1446.2,185.9 1447.3,187.6 1448.4,189.2 1449.5,190.9 1450.6,192.6 1451.6,194.3 1452.7,196.1 1453.7,197.8 1454.8,199.5 1455.8,201.2 1456.8,203 1457.9,204.7 1458.9,206.4 1459.9,208.1 1460.9,209.9 1461.9,211.6 1462.9,213.4 1463.9,215.1 1464.9,216.8 1465.6,218"/><path d="M1381,106.2 1382.8,107.1 1384.6,108 1386.3,108.9 1388.1,109.9 1389.9,110.8 1391.7,111.7 1393.5,112.6 1395.2,113.5 1397,114.5 1398.8,115.4 1400.6,116.3 1402.4,117.2 1404.1,118.1 1405.9,119 1407.7,120 1409.5,120.9 1411.3,121.8 1413.1,122.7 1414.8,123.6 1416.6,124.5 1418.4,125.4 1420.2,126.3 1422,127.2 1423.8,128.1 1425.6,129 1427.4,129.9 1429.2,130.8 1431,131.6 1432.8,132.5 1434.6,133.3 1436.4,134.2 1438.2,135 1440,135.9 1441.8,136.8 1443.7,137.6 1445.5,138.5 1447.3,139.3 1449.1,140.2 1450.9,141.1 1452.7,142 1454.5,142.9 1456.3,143.8 1458,144.7 1459.8,145.6 1461.6,146.5 1463.3,147.5 1465.1,148.5 1466.8,149.5 1468.6,150.5 1470.3,151.5 1472,152.5 1473.8,153.5 1475.5,154.5 1477.2,155.5 1478.9,156.6 1480.6,157.6 1482.3,158.6 1484,159.7 1485.7,160.8 1487.4,161.9 1489.1,163 1490.7,164.1 1492.4,165.3 1494,166.5 1495.6,167.7 1497.1,168.9 1498.7,170.2 1500.2,171.5 1501.7,172.9 1503.1,174.2 1504.5,175.7 1505.9,177.1 1507.2,178.6 1508.5,180.1 1509.8,181.6 1511.1,183.2 1512.3,184.8 1513.5,186.4 1514.7,188 1515.8,189.6 1517,191.3 1518.1,192.9 1519.2,194.6 1520.3,196.3 1521.3,198 1522.3,199.7 1523.3,201.5 1524.3,203.2 1525.2,205 1526.2,206.8 1527,208.6 1528.1,210.8 1529,213.2 1529.8,215.5 1530.5,217.9 1531,220.4 1531.3,222.8 1531.4,225.3 1531.4,227.8 1531.2,230.3 1530.8,232.7 1530.4,235.2 1529.7,237.6 1529,240 1528.1,242.3 1527.1,244.6 1525.9,246.8 1524.6,248.9 1523.2,250.9 1521.6,252.9 1520,254.8 1518.4,256.7 1517,258.1 1515.5,259.5 1514.1,260.9 1512.6,262.2 1511.1,263.6 1509.6,264.8 1508,266.1 1506.4,267.3 1504.8,268.5 1503.2,269.6 1501.5,270.8 1499.8,271.9 1498.1,272.9 1496.4,273.9 1494.7,274.9 1492.9,275.9 1491.2,276.9 1489.4,277.8 1487.6,278.7 1485.8,279.6 1484,280.4 1482.2,281.3 1480.3,282.1 1478.5,282.9 1476.6,283.6 1474.8,284.4 1472.9,285.1 1471,285.8 1469.1,286.4 1467.2,287.1 1465.3,287.7 1463.4,288.3 1461.5,288.9 1459.6,289.5 1457.7,290.1 1455.8,290.6 1453.8,291.2 1451.9,291.7 1450,292.3 1448,292.8 1446.1,293.3 1444.2,293.8 1442.2,294.3 1440.3,294.8 1438.3,295.2 1436.4,295.7 1434.5,296.2 1432.5,296.6 1430.6,297.1 1428.6,297.6 1426.7,298 1424.7,298.4 1422.7,298.9 1420.8,299.3 1418.8,299.7 1416.8,300 1414.9,300.4 1412.9,300.8 1410.9,301.1 1409,301.5 1407,301.8 1405,302.2 1403,302.5 1401.1,302.8 1399.1,303.1 1397.1,303.5 1395.1,303.8 1393.2,304.1 1391.2,304.4 1389.2,304.6 1387.2,304.9 1385.2,305.2 1383.2,305.5 1381.3,305.8 1379.3,306.1 1377.3,306.3 1375.3,306.6 1373.3,306.9 1371.3,307.1 1369.4,307.4 1367.4,307.6 1365.4,307.8 1363.4,308.1 1361.4,308.3 1359.4,308.5 1357.4,308.7 1355.4,308.9 1353.4,309.1 1351.4,309.3 1349.4,309.5 1348.7,309.6"/><path d="M1381.5,102.5 1383.5,103 1385.4,103.4 1387.4,103.9 1389.3,104.4 1391.3,104.9 1393.2,105.3 1395.2,105.8 1397.1,106.3 1399.1,106.7 1401,107.2 1403,107.7 1404.9,108.2 1406.9,108.6 1408.8,109.1 1410.8,109.6 1412.7,110 1414.7,110.5 1416.6,111 1418.6,111.4 1420.5,111.9 1422.5,112.4 1424.4,112.9 1426.4,113.3 1428.3,113.8 1430.3,114.3 1432.2,114.7 1434.2,115.2 1436.1,115.7 1438.1,116.1 1440.1,116.6 1442,117.1 1444,117.5 1445.9,118 1447.9,118.5 1449.8,119 1451.8,119.4 1453.7,119.9 1455.7,120.4 1457.6,120.8 1459.6,121.3 1461.5,121.8 1463.5,122.2 1465.4,122.7 1467.4,123.2 1469.3,123.7 1471.3,124.1 1473.2,124.6 1475.2,125.1 1477.1,125.5 1479.1,126 1481,126.5 1483,127 1484.9,127.4 1486.9,127.9 1488.8,128.4 1490.8,128.8 1492.8,129.3 1494.7,129.8 1496.7,130.3 1498.6,130.7 1500.6,131.2 1502.5,131.7 1504.5,132.1 1506.4,132.6 1508.4,133.1 1510.3,133.6 1512.3,134 1514.2,134.5 1516.2,135 1518.1,135.5 1520.1,135.9 1522,136.4 1524,136.9 1525.9,137.4 1527.9,137.8 1529.8,138.3 1531.8,138.8 1533.7,139.3 1535.7,139.7 1537.6,140.2 1539.6,140.7 1541.5,141.2 1543.5,141.7 1545.4,142.1 1547.4,142.6 1549.3,143.1 1551.3,143.6 1553.2,144.1 1555.2,144.6 1557.1,145 1559.1,145.5 1561,146 1563,146.5 1564.9,147 1566.8,147.5 1568.8,148 1570.7,148.4 1572.7,148.9 1574.6,149.4 1576.6,149.9 1578.5,150.4 1580.5,150.9 1582.4,151.4 1584.4,151.9 1585.1,152.1"/><path d="M1381.5,101.2 1383.5,101.5 1385.5,101.8 1387.4,102.2 1389.4,102.5 1391.4,102.8 1393.4,103.1 1395.4,103.4 1397.3,103.7 1399.3,104 1401.3,104.4 1403.3,104.7 1405.3,105 1407.3,105.3 1409.2,105.6 1411.2,105.9 1413.2,106.3 1415.2,106.6 1417.2,106.9 1419.1,107.2 1421.1,107.5 1423.1,107.8 1425.1,108.1 1427.1,108.5 1429,108.8 1431,109.1 1433,109.4 1435,109.7 1437,110 1438.9,110.3 1440.9,110.7 1442.9,111 1444.9,111.3 1446.9,111.6 1448.9,111.9 1450.8,112.2 1452.8,112.5 1454.8,112.9 1456.8,113.2 1458.8,113.5 1460.7,113.8 1462.7,114.1 1464.7,114.4 1466.7,114.8 1468.7,115.1 1470.6,115.4 1472.6,115.7 1474.6,116 1476.6,116.3 1478.6,116.7 1480.5,117 1482.5,117.3 1484.5,117.6 1486.5,117.9 1488.5,118.2 1490.5,118.6 1492.4,118.9 1494.4,119.2 1496.4,119.5 1498.4,119.8 1500.4,120.1 1502.3,120.5 1504.3,120.8 1506.3,121.1 1508.3,121.4 1510.3,121.7 1512.2,122.1 1514.2,122.4 1516.2,122.7 1518.2,123 1520.2,123.4 1522.1,123.7 1524.1,124 1526.1,124.3 1528.1,124.6 1530.1,125 1532,125.3 1534,125.6 1536,125.9 1538,126.3 1539.9,126.6 1541.9,126.9 1543.9,127.2 1545.9,127.6 1547.9,127.9 1549.8,128.2 1551.8,128.6 1553.8,128.9 1555.8,129.2 1557.8,129.5 1559.7,129.9 1561.7,130.2 1563.7,130.5 1565.7,130.9 1567.7,131.2 1569.6,131.5 1571.6,131.9 1573.6,132.2 1575.6,132.5 1577.5,132.8 1579.5,133.2 1581.5,133.5 1583.5,133.8 1585.5,134.2 1587.4,134.5 1589.4,134.8 1591.4,135.2 1593.4,135.5 1595.3,135.8 1597.3,136.2 1599.3,136.5 1601.3,136.8 1603.3,137.2 1605.2,137.5 1607.2,137.8 1609.2,138.2 1611.2,138.5 1613.1,138.9 1615.1,139.2 1617.1,139.5 1619.1,139.9 1621.1,140.2 1623,140.5 1625,140.9 1627,141.2 1629,141.5 1630.9,141.9 1632.9,142.2 1634.9,142.6 1636.9,142.9 1638.9,143.2 1640.8,143.6 1642.8,143.9 1644.8,144.2 1646.8,144.6 1648.7,144.9 1650.7,145.2 1652.7,145.6 1654.7,145.9 1656.7,146.3 1658.6,146.6 1660.6,146.9 1662.6,147.3 1664.6,147.6 1666.5,147.9 1668.5,148.3 1670.5,148.6 1672.5,149 1674.4,149.3 1676.4,149.6 1678.4,150 1680.4,150.3 1682.4,150.6 1684.3,151 1686.3,151.3 1688.3,151.6 1690.3,152 1692.2,152.3 1694.2,152.6 1696.2,153 1698.2,153.3 1700.2,153.7 1700.9,153.8"/><path d="M1381.2,99 1383.2,99.1 1385.2,99.3 1387.2,99.4 1389.2,99.6 1391.2,99.7 1393.2,99.9 1395.2,100 1397.2,100.1 1399.2,100.3 1401.2,100.4 1403.2,100.6 1405.2,100.7 1407.2,100.8 1409.2,101 1411.2,101.1 1413.2,101.3 1415.2,101.4 1417.2,101.5 1419.2,101.7 1421.2,101.8 1423.2,101.9 1425.1,102.1 1427.1,102.2 1429.1,102.3 1431.1,102.5 1433.1,102.6 1435.1,102.8 1437.1,102.9 1439.1,103 1441.1,103.2 1443.1,103.3 1445.1,103.4 1447.1,103.6 1449.1,103.7 1451.1,103.8 1453.1,104 1455.1,104.1 1457.1,104.3 1459.1,104.4 1461.1,104.5 1463.1,104.7 1465.1,104.8 1467.1,104.9 1469.1,105.1 1471.1,105.2 1473.1,105.3 1475.1,105.5 1477.1,105.6 1479.1,105.8 1481.1,105.9 1483.1,106 1485.1,106.2 1487.1,106.3 1489.1,106.5 1491.1,106.6 1493.1,106.8 1495.1,106.9 1497.1,107 1499.1,107.2 1501.1,107.3 1503.1,107.5 1505.1,107.6 1507.1,107.8 1509.1,107.9 1511,108.1 1513,108.2 1515,108.4 1517,108.5 1519,108.7 1521,108.8 1523,109 1525,109.1 1527,109.3 1529,109.4 1531,109.6 1533,109.8 1535,109.9 1537,110.1 1539,110.2 1541,110.4 1543,110.6 1545,110.7 1547,110.9 1549,111.1 1551,111.2 1553,111.4 1555,111.6 1557,111.7 1559,111.9 1561,112.1 1562.9,112.3 1564.9,112.4 1566.9,112.6 1568.9,112.8 1570.9,113 1572.9,113.1 1574.9,113.3 1576.9,113.5 1578.9,113.7 1580.9,113.9 1582.9,114 1584.9,114.2 1586.9,114.4 1588.9,114.6 1590.9,114.8 1592.9,115 1594.9,115.2 1596.8,115.3 1598.8,115.5 1600.8,115.7 1602.8,115.9 1604.8,116.1 1606.8,116.3 1608.8,116.5 1610.8,116.7 1612.8,116.9 1614.8,117.1 1616.8,117.2 1618.8,117.4 1620.8,117.6 1622.8,117.8 1624.8,118 1626.7,118.2 1628.7,118.4 1630.7,118.6 1632.7,118.8 1634.7,119 1636.7,119.2 1638.7,119.4 1640.7,119.6 1642.7,119.8 1644.7,120 1646.7,120.2 1648.7,120.4 1650.7,120.6 1652.7,120.8 1654.6,121 1656.6,121.2 1658.6,121.4 1660.6,121.6 1662.6,121.8 1664.6,122 1666.6,122.2 1668.6,122.5 1670.6,122.7 1672.6,122.9 1674.6,123.1 1676.6,123.3 1678.5,123.5 1680.5,123.7 1682.5,123.9 1684.5,124.1 1686.5,124.3 1688.5,124.6 1690.5,124.8 1692.5,125 1694.5,125.2 1696.5,125.4 1698.5,125.6 1700.5,125.8 1702.4,126.1 1704.4,126.3 1706.4,126.5 1708.4,126.7 1710.4,126.9 1712.4,127.2 1714.4,127.4 1716.4,127.6 1718.4,127.8 1720.4,128 1722.3,128.3 1724.3,128.5 1726.3,128.7 1728.3,128.9 1730.3,129.2 1732.3,129.4 1734.3,129.6 1736.3,129.9 1738.3,130.1 1740.2,130.3 1742.2,130.6 1744.2,130.8 1746.2,131 1748.2,131.3 1750.2,131.5 1752.2,131.8 1754.2,132 1756.1,132.3 1758.1,132.5 1760.1,132.8 1762.1,133.1 1764.1,133.3 1766.1,133.6 1768.1,133.8 1770,134.1 1772,134.4 1774,134.7 1776,134.9 1778,135.2 1780,135.5 1782,135.8 1783.9,136 1785.9,136.3 1787.9,136.6 1789.9,136.9 1791.9,137.1 1793.8,137.4 1795.8,137.7 1797.8,138 1799.8,138.2 1801.8,138.5 1803.8,138.8 1805.8,139.1 1807.7,139.3 1809.7,139.6 1811.7,139.9 1813.7,140.1 1815.7,140.4 1817.7,140.7 1819.6,140.9 1821.6,141.2 1823.6,141.4 1825.6,141.7 1827.6,141.9 1829.6,142.2 1831.6,142.4 1833.6,142.7 1835.5,142.9 1837.5,143.2 1839.5,143.4 1841.5,143.7 1843.5,143.9 1845.5,144.2 1847.5,144.5 1849.4,144.7 1851.4,145 1853.4,145.2 1855.4,145.5 1857.4,145.7 1859.4,146 1861.4,146.2 1863.4,146.5 1865.3,146.7 1867.3,147 1869.3,147.2 1871.3,147.5 1873.3,147.7 1875.3,148 1877.3,148.3 1879.2,148.5 1881.2,148.8 1883.2,149.1 1885.2,149.3 1887.2,149.6 1889.2,149.9 1891.1,150.1 1893.1,150.4 1895.1,150.7 1897.1,151 1899.1,151.3 1901.1,151.6 1903,151.9 1905,152.2 1907,152.5 1909,152.8 1910.9,153.1 1912.9,153.4 1914.9,153.8 1916.9,154.1 1918.8,154.4 1920.8,154.8 1922.8,155.1 1924,155.3"/><path d="M1381.2,97 1383.2,97.1 1385.2,97.2 1387.2,97.2 1389.2,97.3 1391.2,97.4 1393.2,97.5 1395.2,97.6 1397.2,97.6 1399.2,97.7 1401.2,97.8 1403.2,97.9 1405.2,98 1407.2,98 1409.2,98.1 1411.2,98.2 1413.2,98.3 1415.2,98.3 1417.2,98.4 1419.2,98.5 1421.2,98.5 1423.2,98.6 1425.2,98.7 1427.2,98.8 1429.2,98.8 1431.2,98.9 1433.2,99 1435.2,99 1437.2,99.1 1439.2,99.2 1441.2,99.2 1443.2,99.3 1445.2,99.4 1447.2,99.5 1449.2,99.5 1451.2,99.6 1453.2,99.7 1455.2,99.7 1457.2,99.8 1459.2,99.9 1461.2,100 1463.2,100 1465.2,100.1 1467.2,100.2 1469.2,100.2 1471.2,100.3 1473.2,100.4 1475.2,100.5 1477.2,100.5 1479.2,100.6 1481.2,100.7 1483.2,100.8 1485.2,100.9 1487.2,100.9 1489.2,101 1491.2,101.1 1493.2,101.2 1495.2,101.3 1497.2,101.3 1499.2,101.4 1501.2,101.5 1503.2,101.6 1505.2,101.7 1507.2,101.8 1509.2,101.9 1511.2,101.9 1513.2,102 1515.2,102.1 1517.2,102.2 1519.2,102.3 1521.2,102.4 1523.2,102.5 1525.2,102.6 1527.2,102.7 1529.2,102.8 1531.2,102.9 1533.2,103 1535.2,103.1 1537.2,103.2 1539.2,103.4 1541.2,103.5 1543.2,103.6 1545.2,103.7 1547.2,103.8 1549.2,103.9 1551.2,104.1 1553.2,104.2 1555.2,104.3 1557.2,104.4 1559.2,104.6 1561.2,104.7 1563.2,104.8 1565.2,104.9 1567.2,105.1 1569.2,105.2 1571.2,105.4 1573.2,105.5 1575.2,105.6 1577.2,105.8 1579.2,105.9 1581.2,106.1 1583.2,106.2 1585.2,106.4 1587.2,106.5 1589.2,106.7 1591.2,106.8 1593.2,107 1595.2,107.1 1597.2,107.3 1599.2,107.4 1601.2,107.6 1603.2,107.8 1605.2,107.9 1607.1,108.1 1609.1,108.2 1611.1,108.4 1613.1,108.6 1615.1,108.7 1617.1,108.9 1619.1,109.1 1621.1,109.2 1623.1,109.4 1625.1,109.6 1627.1,109.8 1629.1,109.9 1631.1,110.1 1633.1,110.3 1635.1,110.5 1637.1,110.6 1639.1,110.8 1641.1,111 1643.1,111.2 1645.1,111.3 1647,111.5 1649,111.7 1651,111.9 1653,112.1 1655,112.2 1657,112.4 1659,112.6 1661,112.8 1663,113 1665,113.2 1667,113.4 1669,113.5 1671,113.7 1673,113.9 1675,114.1 1676.9,114.3 1678.9,114.5 1680.9,114.7 1682.9,114.9 1684.9,115.1 1686.9,115.2 1688.9,115.4 1690.9,115.6 1692.9,115.8 1694.9,116 1696.9,116.2 1698.9,116.4 1700.9,116.6 1702.9,116.8 1704.8,117 1706.8,117.2 1708.8,117.4 1710.8,117.6 1712.8,117.8 1714.8,117.9 1716.8,118.1 1718.8,118.3 1720.8,118.5 1722.8,118.7 1724.8,118.9 1726.8,119.1 1728.8,119.3 1730.8,119.5 1732.7,119.7 1734.7,119.9 1736.7,120.1 1738.7,120.3 1740.7,120.5 1742.7,120.7 1744.7,120.9 1746.7,121.1 1748.7,121.3 1750.7,121.4 1752.7,121.6 1754.7,121.8 1756.7,122 1758.7,122.2 1760.6,122.4 1762.6,122.6 1764.6,122.8 1766.6,123 1768.6,123.3 1770.6,123.5 1772.6,123.7 1774.6,123.9 1776.6,124.1 1778.6,124.3 1780.6,124.5 1782.6,124.7 1784.5,124.9 1786.5,125.1 1788.5,125.3 1790.5,125.5 1792.5,125.7 1794.5,125.9 1796.5,126.1 1798.5,126.4 1800.5,126.6 1802.5,126.8 1804.5,127 1806.4,127.2 1808.4,127.4 1810.4,127.6 1812.4,127.8 1814.4,128 1816.4,128.3 1818.4,128.5 1820.4,128.7 1822.4,128.9 1824.4,129.1 1826.4,129.3 1828.3,129.5 1830.3,129.8 1832.3,130 1834.3,130.2 1836.3,130.4 1838.3,130.6 1840.3,130.8 1842.3,131.1 1844.3,131.3 1846.3,131.5 1848.2,131.7 1850.2,131.9 1852.2,132.1 1854.2,132.4 1856.2,132.6 1858.2,132.8 1860.2,133 1862.2,133.2 1864.2,133.5 1866.2,133.7 1868.2,133.9 1870.1,134.1 1872.1,134.3 1874.1,134.6 1876.1,134.8 1878.1,135 1880.1,135.2 1882.1,135.4 1884.1,135.6 1886.1,135.9 1888.1,136.1 1890,136.3 1892,136.5 1894,136.7 1896,137 1898,137.2 1900,137.4 1902,137.6 1904,137.8 1906,138.1 1908,138.3 1909.9,138.5 1911.9,138.7 1913.9,138.9 1915.9,139.1 1917.9,139.4 1919.9,139.6 1921.9,139.8 1923.9,140 1925.9,140.2 1927.9,140.4 1929.9,140.7 1931.8,140.9 1933.8,141.1 1935.8,141.3 1937.8,141.5 1939.8,141.7 1941.8,142 1943.8,142.2 1945.8,142.4 1947.8,142.6 1949.7,142.9 1951.7,143.1 1953.7,143.3 1955.7,143.6 1957.7,143.8 1959.7,144 1961.7,144.3 1963.7,144.5 1965.7,144.7 1967.6,145 1969.6,145.2 1971.6,145.5 1973.6,145.7 1975.6,146 1977.6,146.2 1979.6,146.5 1981.5,146.8 1983.5,147 1985.5,147.3 1987.5,147.5 1989.5,147.8 1991.5,148.1 1993.5,148.4 1995.4,148.6 1997.4,148.9 1999.4,149.2 2001.4,149.5 2003.4,149.8 2005.3,150 2007.3,150.3 2009.3,150.6 2011.3,150.9 2013.3,151.2 2015.3,151.5 2017.2,151.7 2019.2,152 2021.2,152.3 2023.2,152.6 2025.2,152.9 2027.1,153.2 2029.1,153.5 2030.3,153.6"/><path d="M1381.2,95 1383.2,95 1385.2,95.1 1387.2,95.1 1389.2,95.1 1391.2,95.1 1393.2,95.2 1395.2,95.2 1397.2,95.2 1399.2,95.2 1401.2,95.3 1403.2,95.3 1405.2,95.3 1407.2,95.3 1409.2,95.4 1411.2,95.4 1413.2,95.4 1415.2,95.4 1417.2,95.5 1419.2,95.5 1421.2,95.5 1423.2,95.5 1425.2,95.5 1427.2,95.6 1429.2,95.6 1431.2,95.6 1433.2,95.6 1435.2,95.6 1437.2,95.7 1439.3,95.7 1441.3,95.7 1443.3,95.7 1445.3,95.7 1447.3,95.8 1449.3,95.8 1451.3,95.8 1453.3,95.8 1455.3,95.8 1457.3,95.9 1459.3,95.9 1461.3,95.9 1463.3,95.9 1465.3,95.9 1467.3,96 1469.3,96 1471.3,96 1473.3,96 1475.3,96 1477.3,96.1 1479.3,96.1 1481.3,96.1 1483.3,96.1 1485.3,96.2 1487.3,96.2 1489.3,96.2 1491.3,96.2 1493.3,96.3 1495.3,96.3 1497.3,96.3 1499.3,96.4 1501.3,96.4 1503.3,96.4 1505.3,96.5 1507.3,96.5 1509.3,96.5 1511.3,96.6 1513.3,96.6 1515.3,96.6 1517.3,96.7 1519.3,96.7 1521.3,96.7 1523.3,96.8 1525.3,96.8 1527.3,96.9 1529.3,96.9 1531.3,96.9 1533.3,97 1535.3,97 1537.3,97.1 1539.3,97.1 1541.3,97.2 1543.3,97.2 1545.3,97.3 1547.3,97.3 1549.3,97.4 1551.3,97.4 1553.3,97.5 1555.3,97.6 1557.3,97.6 1559.3,97.7 1561.3,97.7 1563.3,97.8 1565.3,97.9 1567.3,97.9 1569.3,98 1571.3,98.1 1573.3,98.1 1575.4,98.2 1577.4,98.3 1579.4,98.3 1581.4,98.4 1583.4,98.5 1585.4,98.5 1587.4,98.6 1589.4,98.7 1591.4,98.7 1593.4,98.8 1595.4,98.9 1597.4,99 1599.4,99 1601.4,99.1 1603.4,99.2 1605.4,99.3 1607.4,99.3 1609.4,99.4 1611.4,99.5 1613.4,99.6 1615.4,99.7 1617.4,99.7 1619.4,99.8 1621.4,99.9 1623.4,100 1625.4,100.1 1627.4,100.1 1629.4,100.2 1631.4,100.3 1633.4,100.4 1635.4,100.5 1637.4,100.6 1639.4,100.7 1641.4,100.7 1643.4,100.8 1645.4,100.9 1647.4,101 1649.4,101.1 1651.4,101.2 1653.4,101.3 1655.4,101.4 1657.4,101.5 1659.4,101.6 1661.4,101.7 1663.4,101.8 1665.4,101.9 1667.4,102 1669.4,102.1 1671.4,102.2 1673.4,102.3 1675.4,102.4 1677.4,102.5 1679.4,102.6 1681.4,102.7 1683.4,102.8 1685.4,102.9 1687.4,103 1689.3,103.1 1691.3,103.2 1693.3,103.3 1695.3,103.4 1697.3,103.6 1699.3,103.7 1701.3,103.8 1703.3,103.9 1705.3,104 1707.3,104.1 1709.3,104.2 1711.3,104.4 1713.3,104.5 1715.3,104.6 1717.3,104.7 1719.3,104.9 1721.3,105 1723.3,105.1 1725.3,105.2 1727.3,105.4 1729.3,105.5 1731.3,105.6 1733.3,105.8 1735.3,105.9 1737.3,106 1739.3,106.2 1741.3,106.3 1743.3,106.4 1745.3,106.6 1747.3,106.7 1749.3,106.9 1751.3,107 1753.3,107.1 1755.3,107.3 1757.3,107.4 1759.3,107.6 1761.3,107.7 1763.3,107.9 1765.3,108 1767.3,108.2 1769.3,108.4 1771.2,108.5 1773.2,108.7 1775.2,108.8 1777.2,109 1779.2,109.2 1781.2,109.3 1783.2,109.5 1785.2,109.7 1787.2,109.8 1789.2,110 1791.2,110.2 1793.2,110.3 1795.2,110.5 1797.2,110.7 1799.2,110.9 1801.2,111 1803.2,111.2 1805.2,111.4 1807.2,111.6 1809.1,111.7 1811.1,111.9 1813.1,112.1 1815.1,112.3 1817.1,112.5 1819.1,112.6 1821.1,112.8 1823.1,113 1825.1,113.2 1827.1,113.4 1829.1,113.6 1831.1,113.7 1833.1,113.9 1835.1,114.1 1837.1,114.3 1839,114.5 1841,114.7 1843,114.9 1845,115.1 1847,115.3 1849,115.5 1851,115.7 1853,115.8 1855,116 1857,116.2 1859,116.4 1861,116.6 1863,116.8 1864.9,117 1866.9,117.2 1868.9,117.4 1870.9,117.6 1872.9,117.8 1874.9,118 1876.9,118.2 1878.9,118.4 1880.9,118.6 1882.9,118.8 1884.9,119 1886.9,119.2 1888.9,119.4 1890.8,119.6 1892.8,119.8 1894.8,120 1896.8,120.2 1898.8,120.4 1900.8,120.6 1902.8,120.8 1904.8,121 1906.8,121.2 1908.8,121.4 1910.8,121.6 1912.8,121.8 1914.8,122 1916.7,122.1 1918.7,122.3 1920.7,122.5 1922.7,122.7 1924.7,122.9 1926.7,123.1 1928.7,123.3 1930.7,123.5 1932.7,123.7 1934.7,123.9 1936.7,124.1 1938.7,124.3 1940.7,124.5 1942.6,124.7 1944.6,124.9 1946.6,125.1 1948.6,125.3 1950.6,125.5 1952.6,125.7 1954.6,125.9 1956.6,126.1 1958.6,126.3 1960.6,126.5 1962.6,126.7 1964.6,126.9 1966.5,127.1 1968.5,127.3 1970.5,127.6 1972.5,127.8 1974.5,128 1976.5,128.2 1978.5,128.4 1980.5,128.6 1982.5,128.9 1984.5,129.1 1986.4,129.3 1988.4,129.6 1990.4,129.8 1992.4,130 1994.4,130.3 1996.4,130.5 1998.4,130.8 2000.4,131 2002.3,131.2 2004.3,131.5 2006.3,131.8 2008.3,132 2010.3,132.3 2012.3,132.5 2014.2,132.8 2016.2,133.1 2018.2,133.3 2020.2,133.6 2022.2,133.9 2024.2,134.2 2026.1,134.5 2028.1,134.7 2030.1,135 2032.1,135.3 2034.1,135.6 2036,135.9 2038,136.2 2040,136.5 2042,136.9 2044,137.2 2045.9,137.5 2047.9,137.8 2049.9,138.1 2051.9,138.5 2053.8,138.8 2055.8,139.1 2057.8,139.5 2059.8,139.8 2061.7,140.1 2063.7,140.5 2065.7,140.8 2067.6,141.2 2069.6,141.5 2071.6,141.8 2073.6,142.2 2075.5,142.5 2077.5,142.9 2079.5,143.3 2081.4,143.6 2083.4,144 2085.4,144.3 2087.4,144.7 2089.3,145 2091.3,145.4 2093.3,145.8 2095.2,146.1 2097.2,146.5 2099.2,146.8 2101.1,147.2 2103.1,147.6 2105.1,147.9 2107,148.3 2109,148.7 2111,149 2112.9,149.4 2114.9,149.8 2116.9,150.1 2118.9,150.5 2120.8,150.9 2122.8,151.2 2124.8,151.6 2126.7,151.9 2128.7,152.3 2130.7,152.7 2132.6,153 2134.6,153.4 2136.6,153.7 2138.5,154.1 2140.5,154.5 2141.7,154.7"/><path d="M1381.2,96.5 1383.2,96.6 1385.2,96.7 1387.2,96.8 1389.2,96.9 1391.2,97.1 1393.2,97.2 1395.2,97.3 1397.2,97.4 1399.2,97.5 1401.2,97.6 1403.2,97.7 1405.2,97.8 1407.2,97.9 1409.2,98 1411.2,98.1 1413.2,98.2 1415.2,98.3 1417.2,98.4 1419.2,98.5 1421.2,98.6 1423.2,98.7 1425.2,98.8 1427.2,98.9 1429.2,99 1431.2,99.1 1433.2,99.2 1435.2,99.3 1437.2,99.4 1439.1,99.5 1441.1,99.6 1443.1,99.7 1445.1,99.8 1447.1,99.9 1449.1,100 1451.1,100.1 1453.1,100.2 1455.1,100.3 1457.1,100.4 1459.1,100.5 1461.1,100.6 1463.1,100.7 1465.1,100.8 1467.1,100.9 1469.1,101 1471.1,101.1 1473.1,101.3 1475.1,101.4 1477.1,101.5 1479.1,101.6 1481.1,101.7 1483.1,101.8 1485.1,101.9 1487.1,102 1489.1,102.1 1491.1,102.2 1493.1,102.3 1495.1,102.4 1497.1,102.5 1499.1,102.7 1501.1,102.8 1503.1,102.9 1505.1,103 1507.1,103.1 1509.1,103.2 1511.1,103.4 1513.1,103.5 1515.1,103.6 1517.1,103.7 1519.1,103.8 1521.1,104 1523.1,104.1 1525.1,104.2 1527.1,104.4 1529.1,104.5 1531.1,104.6 1533,104.7 1535,104.9 1537,105 1539,105.2 1541,105.3 1543,105.4 1545,105.6 1547,105.7 1549,105.9 1551,106 1553,106.2 1555,106.3 1557,106.5 1559,106.6 1561,106.8 1563,106.9 1565,107.1 1567,107.3 1569,107.4 1571,107.6 1573,107.7 1575,107.9 1576.9,108 1578.9,108.2 1580.9,108.4 1582.9,108.5 1584.9,108.7 1586.9,108.8 1588.9,109 1590.9,109.2 1592.9,109.3 1594.9,109.5 1596.9,109.7 1598.9,109.8 1600.9,110 1602.9,110.2 1604.9,110.3 1606.9,110.5 1608.9,110.7 1610.8,110.8 1612.8,111 1614.8,111.2 1616.8,111.3 1618.8,111.5 1620.8,111.7 1622.8,111.9 1624.8,112 1626.8,112.2 1628.8,112.4 1630.8,112.6 1632.8,112.7 1634.8,112.9 1636.8,113.1 1638.8,113.3 1640.7,113.4 1642.7,113.6 1644.7,113.8 1646.7,114 1648.7,114.2 1650.7,114.4 1652.7,114.5 1654.7,114.7 1656.7,114.9 1658.7,115.1 1660.7,115.3 1662.7,115.5 1664.7,115.7 1666.6,115.9 1668.6,116.1 1670.6,116.3 1672.6,116.5 1674.6,116.7 1676.6,116.9 1678.6,117.1 1680.6,117.3 1682.6,117.5 1684.6,117.7 1686.6,117.9 1688.5,118.1 1690.5,118.3 1692.5,118.6 1694.5,118.8 1696.5,119 1698.5,119.2 1700.5,119.4 1702.5,119.7 1704.5,119.9 1706.4,120.1 1708.4,120.4 1710.4,120.6 1712.4,120.9 1714.4,121.1 1716.4,121.4 1718.4,121.6 1720.3,121.9 1722.3,122.1 1724.3,122.4 1726.3,122.7 1728.3,122.9 1730.3,123.2 1732.2,123.5 1734.2,123.8 1736.2,124.1 1738.2,124.4 1740.1,124.7 1742.1,125.1 1744.1,125.4 1746.1,125.7 1748,126.1 1750,126.5 1752,126.8 1753.9,127.2 1755.9,127.6 1757.8,128 1759.8,128.5 1761.8,128.9 1763.7,129.3 1765.7,129.8 1767.6,130.2 1769.5,130.7 1771.5,131.2 1773.4,131.7 1775.4,132.2 1777.3,132.7 1779.2,133.2 1781.2,133.7 1783.1,134.2 1785,134.7 1787,135.2 1788.9,135.7 1790.8,136.2 1792.8,136.7 1794.7,137.2 1796.7,137.7 1798.6,138.2 1800.5,138.7 1802.5,139.2 1804.4,139.8 1806.3,140.3 1808.3,140.8 1810.2,141.4 1812.1,141.9 1814,142.5 1815.9,143.1 1817.8,143.8 1819.7,144.4 1821.6,145.1 1823.5,145.8 1825.3,146.5 1827.2,147.3 1829,148.1 1830.8,148.9 1832.7,149.7 1834.5,150.6 1836.3,151.4 1838.1,152.3 1839.9,153.2 1841.6,154.1 1843.4,155.1 1845.2,156 1846.9,157 1848.7,158 1850.4,159 1852.1,160 1853.8,161.1 1855.5,162.1 1857.2,163.2 1858.9,164.3 1860.5,165.4 1862.2,166.6 1863.8,167.7 1865.4,168.9 1867,170.1 1868.6,171.4 1870.1,172.6 1871.7,173.9 1873.2,175.2 1874.7,176.5 1876.2,177.8 1877.7,179.2 1879.1,180.5 1880.6,181.9 1882,183.3 1883.5,184.7 1884.9,186.1 1886.3,187.5 1887.8,188.9 1889.2,190.3 1890.6,191.7 1892,193.2 1893.3,194.6 1894.7,196.1 1896.1,197.5 1897.5,199 1898.8,200.5 1900.2,201.9 1901.5,203.4 1902.8,205 1904.4,206.9 1905.9,208.8 1907.4,210.8 1908.9,212.9 1910.3,214.9 1911.6,217.1 1912.9,219.2 1914,221.4 1915,223.7 1915.8,226 1916.3,228.4 1916.6,230.9 1916.6,233.4 1916.4,235.8 1916,238.3 1915.5,240.7 1914.8,243.1 1914,245.5 1913.1,247.8 1912,250.1 1910.9,252.3 1909.7,254.5 1908.4,256.6 1907,258.7 1905.5,260.7 1904,262.6 1902.4,264.5 1900.7,266.4 1898.9,268.2 1897.2,269.9 1895.3,271.6 1893.5,273.3 1891.5,274.9 1889.6,276.5 1887.6,278 1885.6,279.5 1883.6,280.9 1881.5,282.3 1879.8,283.4 1878.1,284.5 1876.4,285.5 1874.7,286.5 1873,287.6 1871.2,288.6 1869.5,289.6 1867.8,290.6 1866,291.6 1864.3,292.6 1862.6,293.6 1860.8,294.5 1859.1,295.5 1857.3,296.5 1855.6,297.5 1853.8,298.5 1852.1,299.4 1850.3,300.4 1848.6,301.3 1846.8,302.3 1845,303.2 1843.3,304.1 1841.5,305.1 1839.7,306 1837.9,306.9 1836.2,307.8 1834.4,308.7 1832.6,309.6 1830.8,310.5 1829,311.4 1827.2,312.3 1825.4,313.2 1823.6,314.1 1821.8,314.9 1820,315.8 1818.2,316.7 1816.4,317.6 1814.6,318.4 1812.8,319.3 1811,320.1 1809.2,321 1807.4,321.9 1805.6,322.7 1803.8,323.5 1801.9,324.4 1800.1,325.2 1798.3,326 1796.5,326.8 1794.6,327.6 1792.8,328.4 1791,329.2 1789.1,330 1787.3,330.8 1785.4,331.5 1783.6,332.3 1781.7,333 1779.9,333.8 1778,334.5 1776.1,335.2 1774.3,335.9 1772.4,336.6 1770.5,337.3 1768.6,338 1766.7,338.7 1764.9,339.4 1763,340 1761.1,340.7 1759.2,341.3 1757.3,342 1755.4,342.6 1753.5,343.2 1751.6,343.9 1749.7,344.5 1747.8,345.1 1745.9,345.7 1744,346.3 1742.1,346.9 1740.2,347.5 1738.2,348.1 1736.3,348.7 1734.4,349.3 1732.5,349.9 1730.6,350.5 1728.7,351.1 1726.8,351.6 1724.9,352.2 1722.9,352.8 1721,353.4 1719.1,354 1717.2,354.5 1715.3,355.1 1713.4,355.7 1711.4,356.3 1709.5,356.8 1707.6,357.4 1705.7,358 1703.8,358.5 1701.9,359.1 1699.9,359.7 1698,360.3 1696.1,360.8 1694.2,361.4 1692.3,362 1690.3,362.5 1688.4,363.1 1686.5,363.7 1684.6,364.2 1682.7,364.8 1680.8,365.4 1678.8,365.9 1676.9,366.5 1675,367.1 1673.1,367.6 1671.2,368.2 1669.2,368.8 1667.3,369.3 1665.4,369.9 1663.5,370.4 1661.5,371 1659.6,371.5 1657.7,372.1 1655.8,372.6 1653.9,373.2 1651.9,373.7 1650,374.3 1648.1,374.8 1646.1,375.4 1644.2,375.9 1642.3,376.4 1640.4,377 1638.4,377.5 1636.5,378 1634.6,378.5 1632.6,379.1 1630.7,379.6 1628.8,380.1 1626.8,380.6 1624.9,381.1 1623,381.6 1621,382.1 1619.1,382.6 1617.1,383.1 1615.2,383.6 1613.3,384.1 1611.3,384.5 1609.4,385 1607.4,385.5 1605.5,386 1603.5,386.4 1601.6,386.9 1599.6,387.3 1597.7,387.8 1595.7,388.2 1593.8,388.7 1591.8,389.1 1589.9,389.5 1587.9,390 1586,390.4 1584,390.8 1582.1,391.2 1580.1,391.6 1578.1,392 1576.2,392.4 1574.2,392.8 1572.3,393.2 1570.3,393.6 1568.3,394 1566.4,394.4 1564.4,394.7 1562.4,395.1 1560.5,395.5 1558.5,395.9 1556.5,396.2 1554.6,396.6 1552.6,397 1550.6,397.3 1548.7,397.7 1546.7,398 1544.7,398.4 1542.8,398.7 1540.8,399.1 1538.8,399.4 1536.8,399.8 1534.9,400.1 1532.9,400.5 1530.9,400.8 1529,401.1 1527,401.5 1525,401.8 1523,402.2 1521.1,402.5 1519.1,402.8 1517.1,403.2 1515.1,403.5 1513.2,403.8 1511.2,404.2 1509.2,404.5 1507.3,404.8 1505.3,405.1 1503.3,405.5 1501.3,405.8 1499.4,406.1 1497.4,406.5 1495.4,406.8 1493.4,407.1 1491.5,407.5 1489.5,407.8 1487.5,408.1 1485.5,408.4 1483.6,408.7 1481.6,409.1 1479.6,409.4 1477.6,409.7 1475.7,410 1473.7,410.3 1471.7,410.6 1469.7,410.9 1467.8,411.3 1465.8,411.6 1463.8,411.9 1461.8,412.2 1459.8,412.5 1457.9,412.8 1455.9,413.1 1453.9,413.4 1451.9,413.7 1450,414 1448,414.3 1446,414.6 1444,414.8 1442,415.1 1440.1,415.4 1438.1,415.7 1436.1,416 1434.1,416.3 1432.1,416.6 1430.2,416.9 1428.2,417.1 1426.2,417.4 1424.2,417.7 1422.2,418 1420.2,418.2 1418.3,418.5 1416.3,418.8 1414.3,419.1 1412.3,419.3 1410.3,419.6 1408.3,419.9 1406.4,420.1 1404.4,420.4 1402.4,420.7 1400.4,420.9 1398.4,421.2 1396.4,421.4 1394.5,421.7 1392.5,421.9 1390.5,422.2 1388.5,422.5 1386.5,422.7 1384.5,423 1382.5,423.2 1380.6,423.4 1378.6,423.7 1376.6,423.9 1374.6,424.2 1372.6,424.4 1370.6,424.7 1368.6,424.9 1366.7,425.1 1364.7,425.3 1362.7,425.6 1360.7,425.8 1358.7,426 1356.7,426.2 1354.7,426.5 1352.7,426.7 1350.7,426.9 1348.8,427.1 1346.8,427.3 1344.8,427.5 1342.8,427.7 1340.8,427.9 1338.8,428.1 1336.8,428.3 1334.8,428.5 1332.8,428.7 1330.8,428.9 1328.8,429.1 1326.9,429.3 1324.9,429.5 1322.9,429.6 1320.9,429.8 1318.9,430 1316.9,430.2 1314.9,430.3 1312.9,430.5 1310.9,430.7 1308.9,430.9 1306.9,431 1304.9,431.2 1302.9,431.3 1300.9,431.5 1298.9,431.7 1296.9,431.8 1295,432 1293,432.1 1291,432.3 1289,432.4 1287,432.6 1285,432.7 1283,432.9 1281,433 1279,433.2 1277,433.3 1275,433.4 1273,433.6 1271,433.7 1269,433.9 1267,434 1265,434.1 1263,434.3 1261,434.4 1259,434.6 1257,434.7 1255,434.8 1253,435 1251,435.1 1249,435.2 1247,435.4 1245.1,435.5 1243.1,435.6 1241.1,435.7 1239.1,435.9 1237.1,436 1235.1,436.1 1233.1,436.3 1231.1,436.4 1229.1,436.5 1227.1,436.7 1225.1,436.8 1223.1,436.9 1221.1,437 1219.1,437.2 1217.1,437.3 1215.1,437.4 1213.1,437.6 1211.1,437.7 1209.1,437.8 1207.1,438 1205.1,438.1 1203.1,438.2 1201.1,438.3 1199.1,438.5 1197.1,438.6 1195.1,438.7 1193.1,438.9 1191.1,439 1189.1,439.1 1187.1,439.3 1185.2,439.4 1183.2,439.5 1181.2,439.7 1179.2,439.8 1177.2,439.9 1175.2,440.1 1173.2,440.2 1171.2,440.3 1169.2,440.5 1167.2,440.6 1165.2,440.8 1163.2,440.9 1161.2,441 1159.2,441.2 1157.2,441.3 1155.2,441.5 1153.2,441.6 1151.2,441.8 1149.2,441.9 1147.2,442.1 1145.2,442.2 1143.2,442.4 1141.2,442.5 1139.2,442.6 1137.2,442.8 1135.3,443 1133.3,443.1 1131.3,443.3 1129.3,443.4 1127.3,443.6 1125.3,443.7 1123.3,443.9 1121.3,444 1119.3,444.2 1117.3,444.3 1115.3,444.5 1113.3,444.6 1111.3,444.8 1109.3,445 1107.3,445.1 1105.3,445.3 1103.3,445.4 1101.3,445.6 1099.3,445.7 1097.3,445.9 1095.4,446.1 1093.4,446.2 1091.4,446.4 1089.4,446.5 1087.4,446.7 1085.4,446.8 1083.4,447 1081.4,447.2 1079.4,447.3 1077.4,447.5 1075.4,447.6 1073.4,447.8 1071.4,448 1069.4,448.1 1067.4,448.3 1065.4,448.4 1063.4,448.6 1061.4,448.7 1059.4,448.9 1057.5,449 1055.5,449.2 1053.5,449.4 1051.5,449.5 1049.5,449.7 1047.5,449.8 1045.5,450 1043.5,450.1 1041.5,450.3 1039.5,450.4 1037.5,450.6 1035.5,450.7 1033.5,450.9 1031.5,451 1029.5,451.2 1027.5,451.3 1025.5,451.4 1023.5,451.6 1021.5,451.7 1019.5,451.9 1017.5,452 1015.5,452.2 1013.6,452.3 1011.6,452.4 1009.6,452.6 1007.6,452.7 1005.6,452.8 1003.6,453 1001.6,453.1 999.6,453.2 997.6,453.4 995.6,453.5 993.6,453.6 991.6,453.8 989.6,453.9 987.6,454 985.6,454.1 983.6,454.2 981.6,454.4 979.6,454.5 977.6,454.6 975.6,454.7 973.6,454.8 971.6,455 969.6,455.1 967.6,455.2 965.6,455.3 963.6,455.4 961.6,455.5 959.6,455.6 957.6,455.7 955.6,455.8 953.6,456 951.6,456.1 949.6,456.2 947.6,456.3 945.6,456.4 943.6,456.5 941.6,456.6 939.6,456.7 937.6,456.8 935.7,456.9 933.7,457 931.7,457.1 929.7,457.2 927.7,457.3 925.7,457.4 923.7,457.5 921.7,457.6 919.7,457.7 917.7,457.8 915.7,457.9 913.7,458 911.7,458.1 909.7,458.1 907.7,458.2 905.7,458.3 903.7,458.4 901.7,458.5 899.7,458.6 897.7,458.7 895.7,458.8 893.7,458.9 891.7,459 889.7,459 887.7,459.1 885.7,459.2 883.7,459.3 881.7,459.4 879.7,459.5 877.7,459.6 875.7,459.6 873.7,459.7 871.7,459.8 869.7,459.9 867.7,460 865.7,460.1 863.7,460.2 861.7,460.2 859.7,460.3 857.7,460.4 855.7,460.5 853.7,460.6 851.7,460.6 849.7,460.7 847.7,460.8 845.7,460.9 843.7,461 841.7,461 839.7,461.1 837.7,461.2 835.7,461.3 833.7,461.3 831.7,461.4 829.7,461.5 827.7,461.6 825.7,461.6 823.7,461.7 821.7,461.8 819.7,461.8 817.7,461.9 815.7,462 813.7,462 811.7,462.1 809.7,462.2 807.7,462.2 805.7,462.3 803.7,462.4 801.7,462.4 799.7,462.5 797.7,462.6 795.7,462.6 793.7,462.7 791.7,462.7 789.7,462.8 787.7,462.9 785.7,462.9 783.7,463 781.7,463.1 779.7,463.1 777.7,463.2 775.7,463.2 773.7,463.3 771.7,463.4 769.7,463.4 767.7,463.5 765.7,463.5 763.7,463.6 761.7,463.7 759.7,463.7 757.7,463.8 755.7,463.8 753.7,463.9 751.7,464 749.7,464 747.7,464.1 745.7,464.2 745.5,464.2"/><path d="M1320,97.5 1318,97.7 1316,97.8 1314,98 1312,98.1 1310,98.3 1308,98.4 1306,98.6 1304,98.7 1302,98.8 1300,99 1298,99.1 1296,99.2 1294,99.4 1292,99.5 1290,99.6 1288,99.8 1286,99.9 1284,100 1282,100.1 1280,100.3 1278,100.4 1276,100.5 1274,100.6 1272,100.8 1270,100.9 1268,101 1266,101.1 1264,101.3 1262,101.4 1260,101.5 1258,101.6 1256,101.7 1254,101.9 1252.1,102 1250.1,102.1 1248.1,102.2 1246.1,102.4 1244.1,102.5 1242.1,102.6 1240.1,102.8 1238.1,102.9 1236.1,103 1234.1,103.2 1232.1,103.3 1230.1,103.4 1228.1,103.6 1226.1,103.7 1224.1,103.9 1222.1,104 1220.1,104.1 1218.1,104.3 1216.1,104.5 1214.1,104.6 1212.1,104.8 1210.1,104.9 1208.1,105.1 1206.1,105.3 1204.1,105.4 1202.1,105.6 1200.1,105.8 1198.1,106 1196.1,106.2 1194.1,106.4 1192.1,106.6 1190.1,106.8 1188.2,107 1186.2,107.2 1184.2,107.4 1182.2,107.7 1180.2,107.9 1178.2,108.1 1176.2,108.4 1174.2,108.6 1172.3,108.9 1170.3,109.2 1168.3,109.5 1166.3,109.8 1164.3,110.1 1162.3,110.4 1160.4,110.7 1158.4,111 1156.4,111.3 1154.4,111.6 1152.5,112 1150.5,112.3 1148.5,112.6 1146.5,113 1144.6,113.3 1142.6,113.7 1140.6,114 1138.6,114.4 1136.7,114.8 1134.7,115.1 1132.7,115.5 1130.8,115.9 1128.8,116.3 1126.9,116.8 1124.9,117.2 1123,117.6 1121,118.1 1119.1,118.5 1117.1,119 1115.2,119.5 1113.2,120 1111.3,120.5 1109.4,121.1 1107.4,121.6 1105.5,122.2 1103.6,122.8 1101.7,123.4 1099.8,124 1097.9,124.6 1096,125.3 1094.1,125.9 1092.2,126.6 1090.3,127.3 1088.5,128 1086.6,128.7 1084.7,129.5 1082.9,130.2 1081,131 1079.2,131.7 1077.3,132.5 1075.5,133.3 1073.7,134.1 1071.8,134.9 1070,135.7 1068.2,136.6 1066.4,137.4 1064.6,138.3 1062.8,139.2 1061,140.1 1059.2,141 1057.4,142 1055.7,142.9 1053.9,143.9 1052.2,144.9 1050.5,146 1048.8,147 1047.1,148.1 1045.5,149.2 1043.8,150.4 1042.2,151.5 1040.6,152.7 1039,154 1037.1,155.6 1035.3,157.3 1033.5,159.1 1031.8,160.9 1030.2,162.8 1028.6,164.8 1027.2,166.8 1026,168.4 1024.9,170.1 1023.9,171.8 1022.9,173.5 1021.9,175.3 1020.9,177 1020,178.8 1019.1,180.6 1018.3,182.4 1017.5,184.2 1016.7,186.1 1015.9,187.9 1015,190.3 1014.2,192.6 1013.6,195 1013,197.5 1012.6,199.9 1012.3,202.4 1012.1,204.9 1012,206.9 1011.9,208.9 1011.9,210.9 1011.9,212.9 1012,214.9 1012.1,216.9 1012,216.6"/><path d="M1320,97.5 1318,97.6 1316,97.7 1314,97.8 1312,97.8 1310,97.9 1308,98 1306,98 1304,98.1 1302,98.2 1300,98.2 1298,98.3 1296,98.4 1294,98.4 1292,98.5 1290,98.5 1288,98.6 1286,98.7 1284,98.7 1282,98.8 1280,98.9 1278,98.9 1276,99 1274,99.1 1272,99.2 1270,99.3 1268,99.3 1266,99.4 1264,99.5 1262,99.6 1260,99.8 1258,99.9 1256,100 1254,100.1 1252,100.3 1250,100.4 1248,100.5 1246,100.7 1244,100.9 1242,101 1240,101.2 1238,101.4 1236,101.6 1234,101.8 1232,101.9 1230,102.1 1228,102.3 1226,102.5 1224,102.7 1222,102.9 1220.1,103.1 1218.1,103.3 1216.1,103.5 1214.1,103.7 1212.1,103.9 1210.1,104.1 1208.1,104.4 1206.1,104.6 1204.1,104.8 1202.1,105 1200.1,105.3 1198.2,105.5 1196.2,105.7 1194.2,106 1192.2,106.2 1190.2,106.5 1188.2,106.7 1186.2,107 1184.3,107.3 1182.3,107.5 1180.3,107.8 1178.3,108.1 1176.3,108.4 1174.3,108.7 1172.4,109 1170.4,109.3 1168.4,109.6 1166.4,109.9 1164.5,110.3 1162.5,110.6 1160.5,111 1158.5,111.3 1156.6,111.7 1154.6,112 1152.6,112.4 1150.7,112.8 1148.7,113.2 1146.7,113.6 1144.8,114 1142.8,114.4 1140.9,114.8 1138.9,115.3 1137,115.7 1135,116.2 1133.1,116.6 1131.1,117.1 1129.2,117.6 1127.2,118.1 1125.3,118.6 1123.3,119.1 1121.4,119.6 1119.5,120.1 1117.5,120.6 1115.6,121.2 1113.7,121.7 1111.8,122.3 1109.8,122.8 1107.9,123.4 1106,123.9 1104.1,124.5 1102.2,125.1 1100.2,125.7 1098.3,126.2 1096.4,126.8 1094.5,127.4 1092.6,128 1090.7,128.6 1088.8,129.2 1086.9,129.8 1085,130.5 1083,131.1 1081.1,131.7 1079.2,132.3 1077.3,133 1075.4,133.6 1073.5,134.2 1071.6,134.9 1069.8,135.5 1067.9,136.2 1066,136.8 1064.1,137.5 1062.2,138.1 1060.3,138.8 1058.4,139.4 1056.5,140.1 1054.6,140.8 1052.7,141.4 1050.8,142.1 1049,142.8 1047.1,143.5 1045.2,144.1 1043.3,144.8 1041.4,145.5 1039.5,146.2 1037.6,146.8 1035.8,147.5 1033.9,148.2 1032,148.9 1030.1,149.5 1028.2,150.2 1026.3,150.9 1024.4,151.5 1022.6,152.2 1020.7,152.9 1018.8,153.6 1016.9,154.3 1015,155 1013.2,155.7 1011.3,156.4 1009.4,157.1 1007.6,157.9 1005.7,158.6 1003.9,159.4 1002,160.2 1000.2,161 998.3,161.8 996.5,162.6 994.7,163.5 992.9,164.3 991.1,165.2 989.3,166.1 987.5,167 985.8,168 984,168.9 982.3,169.9 980.5,170.9 978.8,171.9 977.1,172.9 975.4,173.9 973.6,175 971.9,176 970.2,177.1 968.6,178.2 966.9,179.3 965.2,180.4 963.6,181.5 961.9,182.6 960.2,183.8 958.6,184.9 957,186.1 955.3,187.2 953.7,188.4 952.1,189.6 950.5,190.7 948.9,191.9 947.3,193.1 945.7,194.4 944.1,195.6 942.5,196.8 940.9,198 939.3,199.3 937.8,200.5 936.2,201.8 934.6,203 933.1,204.3 931.5,205.5 930,206.8 928.4,208.1 926.9,209.4 925.4,210.7 923.9,212 922.3,213.3 920.8,214.6 919.3,215.9 917.8,217.2 916.3,218.5 914.8,219.8 913.3,221.2 911.8,222.5 910.3,223.9 908.8,225.2 907.4,226.6 905.9,228 904.5,229.3 903,230.7 901.6,232.1 900.1,233.5 898.7,234.9 897.3,236.3 895.8,237.7 894.4,239.1 893,240.5 891.6,241.9 890.2,243.3 888.7,244.8 887.3,246.2 885.9,247.6 884.5,249.1 883.2,250.5 881.8,251.9 880.4,253.4 879,254.8 877.6,256.3 876.2,257.7 874.9,259.2 873.5,260.7 872.1,262.1 870.8,263.6 869.4,265.1 868.1,266.6 866.7,268 865.4,269.5 864,271 862.7,272.5 861.4,274 860.1,275.5 858.7,277 857.4,278.5 856.1,280.1 854.8,281.6 853.6,283.1 852.3,284.7 851,286.2 849.8,287.8 848.6,289.4 847.4,291 846,293.1 846.2,292.8"/><path d="M436,180.5 433.9,181.2 431.8,182 429.8,182.7 427.7,183.5 425.6,184.2 423.5,184.9 421.4,185.7 419.4,186.4 417.3,187.2 415.2,187.9 413.1,188.6 411,189.4 409,190.1 406.9,190.9 404.8,191.6 402.7,192.3 400.6,193.1 398.6,193.8 396.5,194.6 394.4,195.3 392.3,196 390.2,196.8 388.2,197.5 386.1,198.3 384,199 381.9,199.7 379.8,200.5 377.7,201.2 375.7,202 373.6,202.7 371.5,203.4 369.4,204.2 367.3,204.9 365.3,205.7 363.2,206.4 361.1,207.1 359,207.9 356.9,208.6 354.9,209.4 352.8,210.1 350.7,210.8 348.6,211.6 346.5,212.3 344.5,213.1 342.4,213.8 340.3,214.5 338.2,215.3 336.1,216 334.1,216.8 332,217.5 329.9,218.3 327.8,219 325.7,219.7 323.7,220.5 321.6,221.2 319.5,222 317.4,222.7 315.3,223.4 313.3,224.2 311.2,224.9 310.5,225.1"/><path d="M312,229.6 314.1,228.9 316.2,228.1 318.2,227.4 320.3,226.6 322.4,225.9 324.5,225.2 326.6,224.4 328.6,223.7 330.7,222.9 332.8,222.2 334.9,221.5 337,220.7 339,220 341.1,219.2 343.2,218.5 345.3,217.8 347.4,217 349.4,216.3 351.5,215.5 353.6,214.8 355.7,214.1 357.8,213.3 359.8,212.6 361.9,211.8 364,211.1 366.1,210.4 368.2,209.6 370.3,208.9 372.3,208.1 374.4,207.4 376.5,206.7 378.6,205.9 380.7,205.2 382.7,204.4 384.8,203.7 386.9,203 389,202.2 391.1,201.5 393.1,200.7 395.2,200 397.3,199.3 399.4,198.5 401.5,197.8 403.5,197 405.6,196.3 407.7,195.6 409.8,194.8 411.9,194.1 413.9,193.3 416,192.6 418.1,191.8 420.2,191.1 422.3,190.4 424.3,189.6 426.4,188.9 428.5,188.1 430.6,187.4 432.7,186.7 434.7,185.9 436.8,185.2 437.5,185"/><path d="M473.4,180.5 473.2,182.5 472.9,184.5 472.7,186.5 472.4,188.5 472.2,190.4 471.9,192.4 471.7,194.4 471.5,196.4 471.3,198.4 471.2,200.4 471.1,202.9 471.1,205.4 471.2,207.9 471.3,209.9 471.5,211.9 471.7,213.9 471.9,215.9 472.2,217.8 472.5,219.8 472.9,221.8 473.3,223.7 473.7,225.7 474.2,227.6 474.7,229.6 475.3,231.5 475.9,233.4 476.5,235.3 477.2,237.2 478,239 478.8,240.8 479.9,243.1 481.1,245.3 482.3,247.5 483.7,249.5 485.1,251.6 486.7,253.5 488.4,255.3 490.3,257 492.2,258.5 494.3,259.9 496.4,261.2 498.6,262.4 500.9,263.5 502.7,264.3 504.5,265.1 506.4,265.9 508.2,266.6 510.1,267.4 512,268.1 513.8,268.8 515.7,269.5 517.6,270.2 519.5,270.8 521.4,271.5 523.3,272.1 525.2,272.7 527.1,273.2 529.1,273.7 531,274.3 532.9,274.7 534.9,275.2 536.8,275.7 538.8,276.1 540.7,276.5 542.7,276.9 544.7,277.3 546.6,277.7 548.6,278.1 550.6,278.4 552.6,278.8 554.5,279.1 556.5,279.4 558.5,279.7 560.5,280 562.4,280.3 564.4,280.6 566.4,280.9 568.4,281.2 570.4,281.5 572.4,281.7 574.3,282 576.3,282.3 578.3,282.6 580.3,282.8 582.3,283.1 584.3,283.4 586.2,283.7 588.2,283.9 590.2,284.2 592.2,284.5 594.2,284.8 596.2,285.1 598.1,285.4 600.1,285.7 602.1,286 604.1,286.3 606.1,286.6 608,286.9 610,287.2 612,287.5 614,287.8 616,288.2 617.9,288.5 619.9,288.8 621.9,289.1 623.9,289.4 625.8,289.7 627.8,290.1 629.8,290.4 631.8,290.7 633.7,291 635.7,291.3 637.7,291.7 639.7,292 641.7,292.3 643.6,292.6 645.6,292.9 647.6,293.2 649.6,293.6 651.5,293.9 653.5,294.2 655.5,294.5 657.5,294.8 659.5,295.1 661.4,295.4 663.4,295.8 665.4,296.1 667.4,296.4 669.4,296.7 671.3,297 673.3,297.3 675.3,297.6 677.3,297.9 679.3,298.2 681.2,298.5 683.2,298.8 685.2,299.1 687.2,299.4 689.2,299.7 691.1,300 693.1,300.3 695.1,300.6 697.1,300.8 699.1,301.1 701.1,301.4 703,301.7 705,302 707,302.2 709,302.5 711,302.8 713,303 714.9,303.3 716.9,303.5 718.9,303.8 720.9,304 722.9,304.3 724.9,304.5 726.9,304.7 728.9,305 730.9,305.2 732.8,305.4 734.8,305.7 736.8,305.9 738.8,306.1 740.8,306.3 742.8,306.5 744.8,306.7 746.8,307 748.8,307.2 750.8,307.4 752.8,307.6 754.8,307.8 756.7,308 758.7,308.2 760.7,308.4 762.7,308.6 764.7,308.8 766.7,309 768.7,309.3 770.7,309.5 772.7,309.7 774.7,309.9 776.7,310.1 778.7,310.3 778.4,310.3"/><path d="M692,181.2 689.6,182.2 687.2,183.2 684.8,184.1 682.4,185.1 680,186.1 677.6,187.1 675.1,188.1 672.7,189 670.3,190 667.9,191 665.5,192 663.1,193 660.7,194 658.3,194.9 655.9,195.9 653.5,196.9 651.1,197.9 648.7,198.9 646.2,199.8 643.8,200.8 641.4,201.8 639,202.8 636.6,203.8 634.2,204.7 631.8,205.7 629.4,206.7 627,207.7 624.6,208.7 622.2,209.6 619.8,210.6 617.4,211.6 614.9,212.6 612.5,213.6 610.1,214.6 607.7,215.5 605.3,216.5 602.9,217.5 600.5,218.5 598.1,219.5 595.7,220.4 593.3,221.4 590.9,222.4 588.5,223.4 586,224.4 584.5,225"/><path d="M710.7,181.2 709.3,182.9 707.8,184.6 706.4,186.3 705,188.1 703.5,189.8 702.1,191.5 700.7,193.2 699.2,194.9 697.8,196.6 696.4,198.4 695,200.1 693.5,201.8 692.1,203.5 690.7,205.2 689.2,206.9 687.8,208.7 686.4,210.4 684.9,212.1 683.5,213.8 682.1,215.5 680.6,217.2 679.2,219 678.5,219.8"/><path d="M730.6,181.2 731.9,183.1 733.3,184.9 734.6,186.8 736,188.6 737.3,190.5 738.7,192.4 740,194.2 741.4,196.1 742.7,197.9 744.1,199.8 745.4,201.6 746.8,203.5 748.1,205.4 749.5,207.2 750.8,209.1 752.2,210.9 753.5,212.8 754.9,214.7 756.2,216.5 757.6,218.4 758.9,220.2 760.3,222.1 761.6,224 762.9,225.8 764.3,227.7 765.6,229.5 767,231.4 768.3,233.2 769.7,235.1 771,237 772.4,238.8 773.7,240.7 775.1,242.5 776.4,244.4 777.8,246.3 779.1,248.1 780.5,250 781.8,251.8 783.2,253.7 784.5,255.6 785.9,257.4 787.2,259.3 788.6,261.1 789.9,263 791.2,264.8 792.6,266.7 793.9,268.6 795.3,270.4 796.6,272.3 798,274.1 799.3,276 800.7,277.9 802,279.7 803.4,281.6 804.7,283.4 806.1,285.3 807.4,287.2 808.8,289 810.1,290.9 811.5,292.7 812.2,293.7"/><path d="M750,176.2 751.9,176.7 753.9,177.2 755.8,177.7 757.8,178.2 759.7,178.6 761.7,179.1 763.6,179.6 765.6,180.1 767.5,180.6 769.5,181.1 771.4,181.6 773.3,182.1 775.3,182.6 777.2,183 779.2,183.5 781.1,184 783.1,184.5 785,185 787,185.5 788.9,186 790.8,186.5 792.8,187 794.7,187.5 796.7,188 798.6,188.4 800.6,188.9 802.5,189.4 804.5,189.9 806.4,190.4 808.3,190.9 810.3,191.4 812.2,191.9 814.2,192.4 816.1,192.9 818.1,193.3 820,193.8 822,194.3 823.9,194.8 825.9,195.3 827.8,195.8 829.7,196.3 831.7,196.8 833.6,197.2 835.6,197.7 837.5,198.2 839.5,198.7 841.4,199.2 843.4,199.7 845.3,200.1 847.3,200.6 849.2,201.1 851.2,201.6 853.1,202.1 855.1,202.5 857,203 859,203.5 860.9,204 862.8,204.4 864.8,204.9 866.7,205.4 868.7,205.9 870.6,206.3 872.6,206.8 874.5,207.3 876.5,207.8 878.4,208.2 880.4,208.7 882.3,209.2 884.3,209.6 886.2,210.1 888.2,210.6 890.1,211 892.1,211.5 894,212 896,212.4 898,212.9 899.9,213.4 901.9,213.8 903.8,214.3 905.8,214.7 907.7,215.2 909.7,215.7 911.6,216.1 913.6,216.6 915.5,217.1 917.5,217.5 919.4,218 921.4,218.4 923.3,218.9 925.3,219.4 927.2,219.8 929.2,220.3 931.1,220.7 933.1,221.2 935,221.6 937,222.1 938.9,222.6 940.9,223 942.8,223.5 944.8,223.9 946.8,224.4 948.7,224.9 950.7,225.3 952.6,225.8 954.6,226.2 956.5,226.7 958.5,227.2 960.4,227.6 962.4,228.1 964.3,228.5 966.3,229 968.2,229.5 970.2,229.9 972.1,230.4 972.9,230.5"/><path d="M750,172.5 752,172.7 754,172.9 756,173.1 758,173.3 760,173.5 762,173.7 763.9,173.9 765.9,174.1 767.9,174.3 769.9,174.4 771.9,174.6 773.9,174.8 775.9,175 777.9,175.2 779.9,175.4 781.9,175.6 783.9,175.7 785.9,175.9 787.9,176.1 789.9,176.3 791.9,176.5 793.8,176.7 795.8,176.9 797.8,177.1 799.8,177.3 801.8,177.4 803.8,177.6 805.8,177.8 807.8,178 809.8,178.2 811.8,178.4 813.8,178.6 815.8,178.8 817.8,179 819.8,179.2 821.7,179.5 823.7,179.7 825.7,179.9 827.7,180.1 829.7,180.3 831.7,180.6 833.7,180.8 835.7,181.1 837.7,181.3 839.6,181.6 841.6,181.8 843.6,182.1 845.6,182.4 847.6,182.7 849.6,182.9 851.5,183.2 853.5,183.5 855.5,183.8 857.5,184.2 859.4,184.5 861.4,184.8 863.4,185.2 865.4,185.5 867.3,185.8 869.3,186.2 871.3,186.6 873.2,186.9 875.2,187.3 877.2,187.7 879.2,188 881.1,188.4 883.1,188.8 885.1,189.1 887,189.5 889,189.9 891,190.2 892.9,190.6 894.9,191 896.9,191.3 898.8,191.7 900.8,192 902.8,192.4 904.7,192.8 906.7,193.1 908.7,193.5 910.7,193.9 912.6,194.2 914.6,194.6 916.6,194.9 918.5,195.3 920.5,195.7 922.5,196 924.4,196.4 926.4,196.8 928.4,197.1 930.3,197.5 932.3,197.9 934.3,198.3 936.2,198.6 938.2,199 940.2,199.4 942.1,199.8 944.1,200.2 946.1,200.5 948,200.9 950,201.3 952,201.7 953.9,202.1 955.9,202.5 957.8,202.9 959.8,203.3 961.8,203.7 963.7,204.1 965.7,204.6 967.6,205 969.6,205.4 971.6,205.8 973.5,206.3 975.5,206.7 977.4,207.1 979.4,207.6 981.3,208 983.3,208.5 985.2,209 987.2,209.4 989.1,209.9 991,210.4 993,210.9 994.9,211.4 996.9,211.8 998.8,212.3 1000.8,212.8 1002.7,213.3 1004.6,213.8 1006.6,214.3 1008.5,214.8 1010.5,215.3 1012.4,215.8 1014.3,216.3 1016.3,216.8 1018.2,217.3 1020.2,217.8 1022.1,218.3 1024,218.8 1025.9,219.4 1027.9,219.9 1029.8,220.4 1031.7,221 1033.7,221.5 1035.6,222.1 1037.5,222.7 1039.4,223.3 1041.3,223.9 1043.2,224.5 1045.1,225.1 1047,225.7 1048.9,226.4 1050.8,227 1052.7,227.7 1054.6,228.4 1056.4,229.1 1058.3,229.9 1060.2,230.6 1062,231.4 1063.8,232.2 1065.6,233.1 1067.9,234.2 1070,235.4 1072.2,236.7 1073.9,237.8 1075.5,238.9 1077.2,240 1078.8,241.2 1080.5,242.3 1082.1,243.5 1083.7,244.7 1085.3,245.8 1087,247 1088.7,248.1 1090.8,249.4 1092.9,250.6 1095.1,251.8 1096.9,252.7 1098.7,253.6 1100.6,254.4 1102.4,255.2 1104.2,256 1106.1,256.8 1107.9,257.5 1109.8,258.3 1111.7,259 1113.5,259.7 1115.4,260.4 1117.3,261.1 1119.1,261.8 1121,262.5 1122.9,263.3 1124.8,264 1126.6,264.7 1128.5,265.4 1130.3,266.2 1132.2,267 1134,267.7 1135.9,268.5 1137.7,269.3 1139.6,270.1 1141.4,270.9 1143.3,271.6 1145.1,272.3 1147,273 1148.9,273.6 1150.8,274.3 1152.7,274.9 1154.6,275.5 1156.5,276.1 1158.5,276.7 1160.4,277.3 1162.3,277.9 1164.2,278.4 1166.1,279 1168,279.6 1170,280.1 1171.9,280.7 1173.8,281.3 1175.7,281.8 1177.7,282.4 1179.6,282.9 1181.5,283.5 1183.4,284 1185.4,284.6 1187.3,285.1 1189.2,285.7 1191.1,286.2 1193.1,286.7 1195,287.3 1196.9,287.8 1198.8,288.4 1200.8,288.9 1202.7,289.4 1204.6,290 1206.6,290.5 1208.5,291 1210.4,291.6 1212.3,292.1 1214.3,292.6 1216.2,293.2 1218.1,293.7 1220.1,294.3 1222,294.8 1223.9,295.3 1225.9,295.9 1227.8,296.4 1229.7,296.9 1231.6,297.5 1233.6,298 1235.5,298.5 1237.4,299.1 1239.4,299.6 1241.3,300.2 1243.2,300.7 1245.1,301.2 1247.1,301.8 1249,302.3 1249.2,302.4"/><path d="M692.3,172.5 690.3,172.7 688.3,172.9 686.3,173.1 684.3,173.3 682.3,173.5 680.3,173.7 678.3,173.8 676.4,174 674.4,174.2 672.4,174.4 670.4,174.6 668.4,174.7 666.4,174.9 664.4,175.1 662.4,175.3 660.4,175.5 658.4,175.7 656.4,175.9 654.4,176 652.4,176.2 650.4,176.4 648.4,176.7 646.5,176.9 644.5,177.1 642.5,177.3 640.5,177.5 638.5,177.8 636.5,178 634.5,178.3 632.5,178.6 630.6,178.8 628.6,179.1 626.6,179.4 624.6,179.7 622.6,180 620.7,180.3 618.7,180.6 616.7,180.9 614.7,181.2 612.7,181.5 610.8,181.8 608.8,182.2 606.8,182.5 604.8,182.8 602.9,183.2 600.9,183.5 598.9,183.9 597,184.2 595,184.6 593,185 591.1,185.4 589.1,185.8 587.1,186.2 585.2,186.6 583.2,187 581.3,187.4 579.3,187.9 577.4,188.3 575.4,188.8 573.5,189.2 571.5,189.7 569.6,190.2 567.6,190.7 565.7,191.2 563.8,191.7 561.8,192.3 559.9,192.8 558,193.4 556.1,194 554.2,194.5 552.3,195.1 550.3,195.7 548.4,196.3 546.5,197 544.6,197.6 542.7,198.2 540.8,198.9 539,199.6 537.1,200.2 535.2,200.9 533.3,201.6 531.5,202.4 529.6,203.1 527.7,203.8 525.9,204.6 524,205.3 522.2,206.1 520.3,206.8 518.5,207.6 516.6,208.4 514.8,209.1 512.9,209.9 511.1,210.7 509.3,211.5 507.4,212.4 505.7,213.3 503.4,214.4 501.3,215.7 499.2,217 497.1,218.4 495.2,220 493.3,221.6 491.6,223.4 489.9,225.3 488.4,227.3 487,229.3 485.8,231.5 484.7,233.7 483.9,236.1 483.4,238.4 483.3,240.9 483.5,243.3 483.9,245.7 484.6,248.1 485.5,250.4 486.5,252.7 487.3,254.6 488.2,256.4 489,258.2 489.9,260 490.8,261.8 491.7,263.6 492.6,265.4 493.5,267.2 494.4,268.9 495.3,270.7 496.2,272.5 497.1,274.3 498.1,276 499.1,277.8 500.1,279.5 501.1,281.2 502.2,282.9 503.2,284.6 504.3,286.3 505.4,287.9 506.6,289.6 507.7,291.2 508.9,292.8 510.1,294.4 511.4,296 512.6,297.6 513.9,299.1 515.1,300.7 516.4,302.2 517.7,303.7 519,305.3 520.3,306.8 521.6,308.3 523,309.8 524.3,311.3 525.6,312.8 527,314.2 528.3,315.7 529.7,317.2 531.1,318.7 532.4,320.1 533.8,321.6 535.1,323.1 536.5,324.5 537.9,326 539.3,327.4 540.6,328.9 542,330.3 543.4,331.8 544.8,333.3 546.2,334.7 547.5,336.2 548.9,337.6 550.3,339.1 551.7,340.5 553.1,342 554.4,343.4 555.8,344.9 557.2,346.3 558.6,347.8 559.9,349.2 561.3,350.7 562.7,352.1 564.1,353.6 565.5,355 566.9,356.5 568.2,357.9 569.6,359.3 571,360.8 572.4,362.2 573.8,363.6 575.2,365.1 576.6,366.5 578,367.9 579.5,369.3 580.9,370.8 582.3,372.2 583.7,373.6 585.1,375 586.6,376.4 588,377.8 589.4,379.2 590.9,380.6 592.3,381.9 593.8,383.3 595.2,384.7 596.7,386.1 598.2,387.4 599.6,388.8 601.1,390.2 602.6,391.5 604,392.9 605.5,394.2 607,395.6 608.5,396.9 610,398.2 611.5,399.5 613,400.9 614.5,402.2 616,403.5 617.5,404.8 619.1,406.1 620.6,407.4 622.1,408.7 623.6,410 625.2,411.3 626.7,412.6 628.2,413.9 629.8,415.2 631.3,416.5 632.8,417.7 634.4,419 635.9,420.3 637.4,421.6 639,422.9 640.5,424.1 642.1,425.4 643.6,426.7 645.2,428 646.7,429.2 648.3,430.5 649.8,431.8 651.3,433 652.9,434.3 654.4,435.6 656,436.9 657.5,438.1 659.1,439.4 660.6,440.7 662.2,442 663.7,443.2 665.2,444.5 665.8,445"/><path d="M236,255.6 233.7,256.3 231.5,257.1 229.2,257.8 227,258.5 224.7,259.3 222.4,260 220.2,260.7 217.9,261.5 215.6,262.2 213.4,263 211.1,263.7 208.9,264.4 206.6,265.2 204.3,265.9 202.1,266.6 199.8,267.4 197.6,268.1 195.3,268.8 193,269.6 190.8,270.3 188.5,271 186.3,271.8 184,272.5 181.7,273.3 179.5,274 177.2,274.7 174.9,275.5 172.7,276.2 170.4,276.9 168.2,277.7 165.9,278.4 163.6,279.1 161.4,279.9 159.1,280.6 156.9,281.3 154.6,282.1 152.3,282.8 150.1,283.6 147.8,284.3 145.5,285 143.3,285.8 141,286.5 138.8,287.2 136.5,288 134.2,288.7 132,289.4 129.7,290.2 127.5,290.9 125.2,291.6 122.9,292.4 120.7,293.1 118.4,293.9 116.2,294.6 113.9,295.3 111.6,296.1 109.4,296.8 107.1,297.5 104.8,298.3 102.6,299 100.3,299.7 98.1,300.5 98.6,300.3"/><path d="M269,255.6 268.6,257.6 268.2,259.5 267.8,261.5 267.4,263.4 267,265.4 266.6,267.4 266.2,269.3 265.8,271.3 265.4,273.3 265,275.2 264.6,277.2 264.2,279.1 263.8,281.1 263.4,283.1 263,285 262.6,287 262.2,289 261.8,290.9 261.7,291.4"/><path d="M298,255.6 300.2,256.6 302.4,257.6 304.6,258.5 306.8,259.5 309.1,260.5 311.3,261.5 313.5,262.5 315.7,263.4 317.9,264.4 320.1,265.4 322.3,266.4 324.5,267.4 326.7,268.4 329,269.3 331.2,270.3 333.4,271.3 335.6,272.3 337.8,273.3 340,274.2 342.2,275.2 344.4,276.2 346.6,277.2 348.9,278.2 351.1,279.1 353.3,280.1 355.5,281.1 357.7,282.1 359.9,283.1 362.1,284 364.3,285 366.5,286 368.8,287 371,288 373.2,289 375.4,289.9 377.6,290.9 379.8,291.9 382,292.9 384.2,293.9 386.4,294.8 388.7,295.8 390.9,296.8 393.1,297.8 395.3,298.8 395.8,299"/><path d="M338,255.6 340,256 341.9,256.3 343.9,256.7 345.9,257 347.9,257.4 349.8,257.8 351.8,258.1 353.8,258.5 355.7,258.8 357.7,259.2 359.7,259.6 361.7,259.9 363.6,260.3 365.6,260.6 367.6,261 369.5,261.4 371.5,261.7 373.5,262.1 375.5,262.4 377.4,262.8 379.4,263.2 381.4,263.5 383.4,263.9 385.3,264.2 387.3,264.6 389.3,265 391.2,265.3 393.2,265.7 395.2,266 397.2,266.4 399.1,266.8 401.1,267.1 403.1,267.5 405,267.8 407,268.2 409,268.5 411,268.9 412.9,269.3 414.9,269.6 416.9,270 418.9,270.3 420.8,270.7 422.8,271 424.8,271.4 426.7,271.7 428.7,272.1 430.7,272.4 432.7,272.8 434.6,273.1 436.6,273.5 438.6,273.8 440.6,274.2 442.5,274.5 444.5,274.8 446.5,275.2 448.5,275.5 450.4,275.9 452.4,276.2 454.4,276.6 456.4,276.9 458.3,277.2 460.3,277.6 462.3,277.9 464.3,278.2 466.2,278.6 468.2,278.9 470.2,279.3 472.2,279.6 474.1,279.9 476.1,280.3 478.1,280.6 480.1,280.9 482,281.3 484,281.6 486,281.9 488,282.3 490,282.6 491.9,283 493.9,283.3 495.9,283.6 497.9,284 499.8,284.3 501.8,284.6 503.8,285 505.8,285.3 507.7,285.6 509.7,286 511.7,286.3 513.7,286.7 515.6,287 517.6,287.3 519.6,287.7 521.6,288 523.5,288.3 525.5,288.7 527.5,289 529.5,289.4 531.4,289.7 533.4,290 535.4,290.4 537.4,290.7 539.4,291 541.3,291.4 543.3,291.7 545.3,292 547.3,292.4 549.2,292.7 551.2,293.1 553.2,293.4 555.2,293.7 557.1,294.1 559.1,294.4 561.1,294.7 563.1,295.1 565,295.4 567,295.7 569,296.1 571,296.4 572.9,296.7 574.9,297.1 576.9,297.4 578.9,297.8 580.8,298.1 582.8,298.4 584.8,298.8 586.8,299.1 588.8,299.4 590.7,299.8 592.7,300.1 594.7,300.4 596.7,300.8 598.6,301.1 600.6,301.4 602.6,301.8 604.6,302.1 606.5,302.4 608.5,302.8 610.5,303.1 612.5,303.5 614.4,303.8 616.4,304.1 618.4,304.5 620.4,304.8 622.3,305.1 624.3,305.5 626.3,305.8 628.3,306.1 630.3,306.5 632.2,306.8 634.2,307.1 636.2,307.5 638.2,307.8 637.9,307.8"/><path d="M1324,181 1321.7,182 1319.5,183 1317.2,183.9 1315,184.9 1312.7,185.9 1310.5,186.9 1308.2,187.8 1306,188.8 1303.7,189.8 1301.5,190.8 1299.2,191.7 1297,192.7 1294.7,193.7 1292.5,194.7 1290.2,195.7 1288,196.6 1285.7,197.6 1283.5,198.6 1281.2,199.6 1279,200.5 1276.7,201.5 1274.5,202.5 1272.2,203.5 1270,204.4 1267.7,205.4 1265.5,206.4 1263.2,207.4 1261,208.4 1258.7,209.3 1256.5,210.3 1254.2,211.3 1252,212.3 1249.7,213.2 1247.5,214.2 1245.2,215.2 1243,216.2 1240.7,217.1 1238.5,218.1 1236.2,219.1 1233.9,220.1 1231.7,221.1 1229.4,222 1227.2,223 1224.9,224 1224.2,224.3"/><path d="M1351,181 1351.1,183.2 1351.2,185.4 1351.3,187.6 1351.4,189.8 1351.5,192 1351.5,194.2 1351.6,196.4 1351.7,198.6 1351.8,200.8 1351.9,203 1352,205.2 1352.1,207.4 1352.2,209.6 1352.3,211.8 1352.4,214 1352.4,216.2 1352.5,216.3"/><path d="M1312.5,178.6 1310.5,178.8 1308.5,179.1 1306.5,179.3 1304.5,179.6 1302.6,179.8 1300.6,180.1 1298.6,180.3 1296.6,180.5 1294.6,180.8 1292.6,181 1290.6,181.3 1288.6,181.5 1286.7,181.8 1284.7,182 1282.7,182.3 1280.7,182.5 1278.7,182.8 1276.7,183 1274.7,183.3 1272.7,183.5 1270.7,183.8 1268.8,184 1266.8,184.3 1264.8,184.5 1262.8,184.8 1260.8,185 1258.8,185.3 1256.8,185.5 1254.8,185.7 1252.9,186 1250.9,186.2 1248.9,186.5 1246.9,186.7 1244.9,187 1242.9,187.2 1240.9,187.5 1238.9,187.7 1236.9,188 1235,188.2 1233,188.4 1231,188.7 1229,188.9 1227,189.2 1225,189.4 1223,189.7 1221,189.9 1219,190.1 1217.1,190.4 1215.1,190.6 1213.1,190.8 1211.1,191.1 1209.1,191.3 1207.1,191.5 1205.1,191.8 1203.1,192 1201.1,192.2 1199.1,192.4 1197.2,192.7 1195.2,192.9 1193.2,193.1 1191.2,193.3 1189.2,193.5 1187.2,193.7 1185.2,193.9 1183.2,194.1 1181.2,194.3 1179.2,194.5 1177.2,194.7 1175.2,194.9 1173.2,195.1 1171.2,195.3 1169.2,195.4 1167.2,195.6 1165.3,195.8 1163.3,195.9 1161.3,196.1 1159.3,196.3 1157.3,196.4 1155.3,196.6 1153.3,196.8 1151.3,196.9 1149.3,197.1 1147.3,197.3 1145.3,197.5 1143.3,197.6 1141.3,197.8 1139.3,198 1137.3,198.2 1135.3,198.4 1133.3,198.6 1131.3,198.9 1129.3,199.1 1127.4,199.3 1125.4,199.5 1123.4,199.7 1121.4,200 1119.4,200.2 1117.4,200.4 1115.4,200.6 1113.4,200.8 1111.4,201.1 1109.4,201.3 1107.4,201.5 1105.4,201.7 1103.5,202 1101.5,202.2 1099.5,202.4 1097.5,202.6 1095.5,202.9 1093.5,203.1 1091.5,203.4 1089.5,203.6 1087.5,203.9 1085.6,204.1 1083.6,204.4 1081.6,204.7 1079.6,204.9 1077.6,205.2 1075.6,205.5 1073.7,205.8 1071.7,206.1 1069.7,206.4 1067.7,206.7 1065.7,207 1063.8,207.4 1061.8,207.7 1059.8,208.1 1057.8,208.4 1055.9,208.8 1053.9,209.2 1052,209.6 1050,210 1048,210.4 1046.1,210.8 1044.1,211.3 1042.2,211.7 1040.2,212.1 1038.3,212.6 1036.3,213 1034.4,213.5 1032.4,214 1030.5,214.5 1028.5,215 1026.6,215.5 1024.6,216 1022.7,216.5 1020.8,217 1018.8,217.5 1016.9,218.1 1015,218.6 1013.1,219.2 1011.1,219.7 1009.2,220.3 1007.3,220.9 1005.4,221.4 1003.5,222 1001.5,222.6 999.6,223.2 997.7,223.8 995.8,224.5 993.9,225.1 992,225.7 990.1,226.4 988.2,227 986.3,227.7 984.4,228.3 982.6,229 980.7,229.7 978.8,230.4 976.9,231.1 975,231.8 973.2,232.5 971.3,233.3 969.4,234 967.6,234.7 965.7,235.5 963.9,236.2 962,237 960.2,237.8 958.3,238.6 956.5,239.3 954.6,240.1 952.8,240.9 951,241.7 949.1,242.5 947.3,243.3 945.5,244.1 943.6,245 941.8,245.8 940,246.6 938.2,247.4 936.3,248.3 934.5,249.1 932.7,249.9 930.9,250.8 929.1,251.6 927.3,252.5 925.4,253.3 923.6,254.2 921.8,255.1 920,255.9 918.2,256.8 916.4,257.7 914.6,258.5 912.8,259.4 911,260.3 909.2,261.1 907.4,262 905.6,262.9 903.8,263.8 902,264.7 900.2,265.6 898.4,266.5 896.6,267.4 894.8,268.3 893.1,269.2 891.3,270.1 889.5,271.1 887.8,272 886,273 884.3,274 882.5,275 880.8,276 879.1,277 877.4,278.1 875.7,279.1 874,280.2 872.3,281.3 870.7,282.5 869.1,283.7 867.5,284.9 865.9,286.1 864.3,287.3 862.8,288.6 861.3,289.9 859.8,291.3 858.3,292.6 856.8,294 855.3,295.3 855.2,295.5"/><path d="M1312.5,178.6 1310.5,178.8 1308.5,179.1 1306.5,179.3 1304.5,179.6 1302.6,179.8 1300.6,180.1 1298.6,180.3 1296.6,180.6 1294.6,180.8 1292.6,181.1 1290.6,181.3 1288.6,181.6 1286.7,181.8 1284.7,182.1 1282.7,182.3 1280.7,182.6 1278.7,182.9 1276.7,183.1 1274.7,183.4 1272.8,183.6 1270.8,183.9 1268.8,184.1 1266.8,184.4 1264.8,184.7 1262.8,184.9 1260.8,185.2 1258.8,185.4 1256.9,185.7 1254.9,185.9 1252.9,186.2 1250.9,186.4 1248.9,186.7 1246.9,186.9 1244.9,187.2 1243,187.4 1241,187.7 1239,187.9 1237,188.2 1235,188.4 1233,188.7 1231,188.9 1229,189.2 1227.1,189.4 1225.1,189.7 1223.1,189.9 1221.1,190.1 1219.1,190.4 1217.1,190.6 1215.1,190.8 1213.1,191.1 1211.1,191.3 1209.1,191.5 1207.2,191.7 1205.2,191.9 1203.2,192.1 1201.2,192.4 1199.2,192.6 1197.2,192.8 1195.2,193 1193.2,193.1 1191.2,193.3 1189.2,193.5 1187.2,193.7 1185.2,193.9 1183.2,194 1181.2,194.2 1179.2,194.3 1177.2,194.4 1175.2,194.6 1173.2,194.7 1171.2,194.8 1169.2,194.9 1167.2,195 1165.2,195.1 1163.2,195.2 1161.2,195.3 1159.2,195.4 1157.2,195.5 1155.2,195.6 1153.2,195.7 1151.2,195.8 1149.2,195.9 1147.2,196 1145.2,196.1 1143.2,196.2 1141.2,196.3 1139.2,196.4 1137.2,196.5 1135.2,196.6 1133.2,196.8 1131.2,196.9 1129.2,197.1 1127.2,197.2 1125.2,197.4 1123.2,197.5 1121.2,197.7 1119.3,197.8 1117.3,198 1115.3,198.2 1113.3,198.3 1111.3,198.5 1109.3,198.6 1107.3,198.8 1105.3,199 1103.3,199.1 1101.3,199.3 1099.3,199.5 1097.3,199.6 1095.3,199.8 1093.3,200 1091.3,200.2 1089.3,200.4 1087.3,200.5 1085.3,200.7 1083.3,200.9 1081.3,201.1 1079.3,201.3 1077.4,201.5 1075.4,201.7 1073.4,201.9 1071.4,202.2 1069.4,202.4 1067.4,202.6 1065.4,202.8 1063.4,203.1 1061.4,203.3 1059.4,203.5 1057.5,203.8 1055.5,204.1 1053.5,204.3 1051.5,204.6 1049.5,204.9 1047.5,205.1 1045.5,205.4 1043.6,205.7 1041.6,206 1039.6,206.3 1037.6,206.5 1035.6,206.8 1033.6,207.1 1031.7,207.4 1029.7,207.8 1027.7,208.1 1025.7,208.4 1023.8,208.7 1021.8,209 1019.8,209.4 1017.8,209.7 1015.9,210.1 1013.9,210.4 1011.9,210.8 1009.9,211.1 1008,211.5 1006,211.9 1004,212.3 1002.1,212.7 1000.1,213.1 998.2,213.5 996.2,213.9 994.2,214.3 992.3,214.8 990.3,215.2 988.4,215.6 986.4,216.1 984.5,216.6 982.5,217.1 980.6,217.5 978.7,218 976.7,218.6 974.8,219.1 972.9,219.6 970.9,220.1 969,220.7 967.1,221.2 965.1,221.8 963.2,222.3 961.3,222.9 959.4,223.5 957.5,224.1 955.6,224.7 953.6,225.3 951.7,225.8 949.8,226.4 947.9,227.1 946,227.7 944.1,228.3 942.2,228.9 940.3,229.5 938.4,230.1 936.5,230.7 934.6,231.3 932.7,232 930.8,232.6 928.8,233.2 926.9,233.8 925,234.5 923.1,235.1 921.2,235.7 919.3,236.3 917.4,236.9 915.5,237.6 913.6,238.2 911.7,238.9 909.8,239.5 907.9,240.1 906,240.8 904.1,241.5 902.3,242.1 900.4,242.8 898.5,243.4 896.6,244.1 894.7,244.8 892.8,245.4 890.9,246.1 889,246.8 887.2,247.5 885.3,248.1 883.4,248.8 881.5,249.5 879.6,250.2 877.7,250.8 875.8,251.5 873.9,252.2 872.1,252.8 870.2,253.5 868.3,254.2 866.4,254.8 864.5,255.5 862.6,256.2 860.7,256.8 858.8,257.5 856.9,258.1 855,258.8 853.1,259.4 851.2,260 849.3,260.7 847.4,261.3 845.5,262 843.6,262.6 841.7,263.2 839.8,263.9 837.9,264.5 836,265.1 834.1,265.8 832.2,266.4 830.3,267 828.4,267.7 826.5,268.3 824.6,268.9 822.7,269.6 820.8,270.2 818.9,270.8 817,271.4 815.1,272.1 813.2,272.7 811.3,273.3 809.4,273.9 807.5,274.5 805.6,275.1 803.7,275.7 801.8,276.3 799.9,276.9 797.9,277.5 796,278.1 794.1,278.7 792.2,279.3 790.3,279.9 788.4,280.5 786.4,281 784.5,281.6 782.6,282.2 780.7,282.7 778.8,283.3 776.8,283.9 774.9,284.4 773,285 771.1,285.5 769.1,286.1 767.2,286.6 765.3,287.2 763.4,287.7 761.4,288.2 759.5,288.8 757.6,289.3 755.6,289.9 753.7,290.4 751.8,290.9 749.8,291.4 747.9,292 746,292.5 744.1,293 742.1,293.6 740.2,294.1 738.3,294.6 736.3,295.1 734.4,295.7 732.5,296.2 730.5,296.7 728.6,297.3 726.7,297.8 724.7,298.3 722.8,298.8 720.9,299.4 718.9,299.9 718.7,300"/><path d="M985.8,256 983.9,256.7 982,257.4 980.2,258.2 978.3,258.9 976.4,259.6 974.5,260.3 972.7,261 970.8,261.8 968.9,262.5 967,263.2 965.2,263.9 963.3,264.6 961.4,265.4 959.5,266.1 957.7,266.8 955.8,267.5 953.9,268.2 952,269 950.2,269.7 948.3,270.4 946.4,271.1 944.5,271.8 942.6,272.6 940.8,273.3 938.9,274 937,274.7 935.1,275.4 933.3,276.2 931.4,276.9 929.5,277.6 927.6,278.3 925.8,279 923.9,279.8 922,280.5 920.1,281.2 918.3,281.9 916.4,282.6 914.5,283.4 912.6,284.1 910.8,284.8 908.9,285.5 907,286.2 905.1,287 903.3,287.7 901.4,288.4 899.5,289.1 897.6,289.9 895.8,290.6 893.9,291.3 892,292 890.1,292.8 888.3,293.5 886.4,294.2 884.5,295 882.6,295.7 880.8,296.4 878.9,297.2 877,297.9 875.2,298.6 873.3,299.4 872.6,299.6"/><path d="M1002,256 1000.6,257.4 999.1,258.9 997.7,260.3 996.3,261.7 994.8,263.1 993.4,264.6 992,266 990.5,267.4 989.1,268.8 987.7,270.3 986.2,271.7 984.8,273.1 983.4,274.6 982,276 980.5,277.4 979.1,278.8 977.7,280.3 976.2,281.7 974.8,283.1 973.4,284.6 972,286 970.5,287.4 969.1,288.9 967.7,290.3 966.3,291.8 964.9,293.2 963.5,294.7 963.2,294.9"/><path d="M1015.7,256 1015.7,258 1015.6,260 1015.6,262 1015.5,264 1015.5,266 1015.5,268.1 1015.5,270.1 1015.4,272.1 1015.3,274.1 1015.2,276.1 1015.1,278.1 1015,280.1 1014.8,282.1 1014.5,284.1 1014.3,286.1 1014,288.1 1013.7,290 1013.3,292 1013,294 1012.6,296 1012.2,297.9 1011.7,299.9 1011.3,301.9 1010.8,303.8 1010.3,305.8 1009.8,307.7 1009.3,309.6 1008.7,311.6 1008.2,313.5 1007.5,315.4 1006.9,317.3 1006.2,319.2 1005.5,321.1 1004.8,322.9 1004,324.8 1003.2,326.6 1002.4,328.4 1001.5,330.2 1000.5,332 999.5,333.8 998.5,335.5 997.5,337.2 996.4,338.9 995.2,340.5 994.1,342.2 992.9,343.8 991.6,345.4 990.4,346.9 989.1,348.5 987.8,350 986.5,351.5 985.1,353 983.8,354.5 982.4,356 981.1,357.5 979.7,358.9 978.3,360.4 976.9,361.8 975.5,363.3 974.1,364.8 972.8,366.2 971.4,367.7 970,369.1 969.8,369.3"/><path d="M1044.4,251 1046.3,251.5 1048.3,252 1050.2,252.5 1052.2,252.9 1054.1,253.4 1056.1,253.9 1058,254.4 1060,254.9 1061.9,255.4 1063.9,255.8 1065.8,256.3 1067.8,256.8 1069.7,257.3 1071.7,257.8 1073.6,258.3 1075.6,258.7 1077.5,259.2 1079.5,259.7 1081.4,260.2 1083.4,260.7 1085.3,261.2 1087.3,261.6 1089.2,262.1 1091.2,262.6 1093.1,263.1 1095.1,263.6 1097,264.1 1098.9,264.6 1100.9,265 1102.8,265.5 1104.8,266 1106.7,266.5 1108.7,267 1110.6,267.5 1112.6,268 1114.5,268.4 1116.5,268.9 1118.4,269.4 1120.4,269.9 1122.3,270.4 1124.3,270.9 1126.2,271.4 1128.2,271.8 1130.1,272.3 1132.1,272.8 1134,273.3 1136,273.8 1137.9,274.3 1139.8,274.8 1141.8,275.3 1143.7,275.7 1145.7,276.2 1147.6,276.7 1149.6,277.2 1151.5,277.7 1153.5,278.2 1155.4,278.7 1157.4,279.2 1159.3,279.7 1161.3,280.1 1163.2,280.6 1165.2,281.1 1167.1,281.6 1169,282.1 1171,282.6 1172.9,283.1 1174.9,283.6 1176.8,284.1 1178.8,284.5 1180.7,285 1182.7,285.5 1184.6,286 1186.6,286.5 1188.5,287 1190.5,287.5 1192.4,288 1194.4,288.5 1196.3,289 1198.2,289.4 1200.2,289.9 1202.1,290.4 1204.1,290.9 1206,291.4 1208,291.9 1209.9,292.4 1211.9,292.9 1213.8,293.4 1215.8,293.9 1217.7,294.4 1219.7,294.8 1221.6,295.3 1223.6,295.8 1225.5,296.3 1227.4,296.8 1229.4,297.3 1231.3,297.8 1233.3,298.3 1235.2,298.8 1237.2,299.3 1239.1,299.7 1241.1,300.2 1243,300.7 1245,301.2 1246.9,301.7 1248.9,302.2 1249.1,302.3"/><path d="M1449.3,253.7 1447.3,254 1445.3,254.3 1443.4,254.7 1441.4,255 1439.4,255.3 1437.4,255.6 1435.5,256 1433.5,256.3 1431.5,256.6 1429.5,257 1427.6,257.3 1425.6,257.6 1423.6,258 1421.7,258.3 1419.7,258.7 1417.7,259 1415.7,259.4 1413.8,259.7 1411.8,260.1 1409.8,260.4 1407.9,260.8 1405.9,261.1 1403.9,261.5 1401.9,261.8 1400,262.1 1398,262.5 1396,262.8 1394.1,263.2 1392.1,263.5 1390.1,263.9 1388.1,264.2 1386.2,264.5 1384.2,264.9 1382.2,265.2 1380.2,265.5 1378.3,265.8 1376.3,266.1 1374.3,266.5 1372.3,266.8 1370.3,267.1 1368.4,267.4 1366.4,267.7 1364.4,268 1362.4,268.3 1360.4,268.6 1358.5,268.9 1356.5,269.1 1354.5,269.4 1352.5,269.7 1350.5,269.9 1348.5,270.2 1346.6,270.5 1344.6,270.7 1342.6,271 1340.6,271.2 1338.6,271.4 1336.6,271.7 1334.6,271.9 1332.6,272.1 1330.7,272.3 1328.7,272.5 1326.7,272.7 1324.7,272.9 1322.7,273.1 1320.7,273.3 1318.7,273.5 1316.7,273.7 1314.7,273.9 1312.7,274 1310.7,274.2 1308.7,274.4 1306.7,274.6 1304.7,274.7 1302.7,274.9 1300.7,275 1298.8,275.2 1296.8,275.3 1294.8,275.5 1292.8,275.6 1290.8,275.8 1288.8,275.9 1286.8,276 1284.8,276.2 1282.8,276.3 1280.8,276.4 1278.8,276.6 1276.8,276.7 1274.8,276.8 1272.8,276.9 1270.8,277.1 1268.8,277.2 1266.8,277.3 1264.8,277.4 1262.8,277.5 1260.8,277.6 1258.8,277.7 1256.8,277.8 1254.8,277.9 1252.8,278 1250.8,278.2 1248.8,278.3 1246.8,278.4 1244.8,278.5 1242.8,278.6 1240.8,278.7 1238.8,278.7 1236.8,278.8 1234.8,278.9 1232.8,279 1230.8,279.1 1228.8,279.2 1226.8,279.3 1224.8,279.4 1222.8,279.5 1220.8,279.6 1218.8,279.7 1216.8,279.7 1214.8,279.8 1212.8,279.9 1210.8,280 1208.8,280.1 1206.8,280.2 1204.8,280.3 1202.8,280.3 1200.8,280.4 1198.8,280.5 1196.8,280.6 1194.8,280.7 1192.8,280.8 1190.8,280.8 1188.8,280.9 1186.8,281 1184.8,281.1 1182.8,281.2 1180.8,281.3 1178.8,281.3 1176.8,281.4 1174.8,281.5 1172.8,281.6 1170.8,281.7 1168.8,281.8 1166.8,281.8 1164.8,281.9 1162.8,282 1160.8,282.1 1158.8,282.2 1156.8,282.3 1154.8,282.4 1152.8,282.4 1150.8,282.5 1148.8,282.6 1146.8,282.7 1144.8,282.8 1142.8,282.9 1140.8,283 1138.8,283.1 1136.8,283.2 1134.8,283.3 1132.8,283.4 1130.8,283.5 1128.8,283.6 1126.8,283.7 1124.8,283.7 1122.8,283.8 1120.8,283.9 1118.8,284 1116.8,284.1 1114.8,284.2 1112.8,284.3 1110.8,284.4 1108.8,284.4 1106.8,284.5 1104.8,284.6 1102.8,284.7 1100.8,284.7 1098.8,284.8 1096.8,284.9 1094.8,285 1092.8,285 1090.8,285.1 1088.8,285.2 1086.8,285.2 1084.8,285.3 1082.8,285.4 1080.8,285.4 1078.8,285.5 1076.8,285.6 1074.8,285.6 1072.8,285.7 1070.8,285.7 1068.8,285.8 1066.8,285.9 1064.8,285.9 1062.8,286 1060.8,286.1 1058.8,286.1 1056.8,286.2 1054.8,286.2 1052.8,286.3 1050.8,286.4 1048.8,286.4 1046.8,286.5 1044.8,286.6 1042.8,286.6 1040.8,286.7 1038.8,286.8 1036.8,286.8 1034.8,286.9 1032.8,287 1030.8,287 1028.8,287.1 1026.8,287.2 1024.8,287.2 1022.8,287.3 1020.8,287.4 1018.8,287.5 1016.8,287.5 1014.8,287.6 1012.8,287.7 1010.8,287.8 1008.8,287.9 1006.8,288 1004.8,288 1002.8,288.1 1000.8,288.2 998.8,288.3 996.8,288.4 994.8,288.5 992.8,288.6 990.8,288.7 988.8,288.9 986.8,289 984.8,289.1 982.8,289.2 980.8,289.3 978.8,289.5 976.8,289.6 974.8,289.7 972.8,289.9 970.8,290 968.8,290.2 966.8,290.4 964.8,290.5 962.8,290.7 960.8,290.9 958.8,291.1 956.8,291.3 954.8,291.5 952.8,291.7 950.8,291.9 948.9,292.1 946.9,292.4 944.9,292.6 942.9,292.8 940.9,293.1 938.9,293.3 936.9,293.6 934.9,293.8 933,294.1 931,294.3 929,294.6 927,294.9 925,295.2 923,295.5 921.1,295.7 919.1,296 917.1,296.3 915.1,296.6 913.2,297 911.2,297.3 909.2,297.6 907.2,297.9 905.3,298.3 903.3,298.6 901.3,299 899.3,299.3 897.4,299.7 895.4,300.1 893.4,300.4 891.5,300.8 889.5,301.3 887.6,301.7 885.6,302.2 885.9,302.1"/><path d="M1449.8,254.9 1447.4,255.9 1445,256.9 1442.6,257.9 1440.2,258.9 1437.9,259.9 1435.5,260.9 1433.1,261.9 1430.7,262.9 1428.3,263.9 1425.9,264.9 1423.5,265.9 1421.1,266.9 1418.8,267.9 1416.4,268.9 1414,269.9 1411.6,270.9 1409.2,271.8 1406.8,272.8 1404.4,273.8 1402,274.8 1399.7,275.8 1397.3,276.8 1394.9,277.8 1392.5,278.8 1390.1,279.8 1387.7,280.8 1385.3,281.8 1382.9,282.8 1380.5,283.8 1378.2,284.8 1375.8,285.8 1373.4,286.8 1371,287.8 1368.6,288.8 1366.2,289.8 1363.8,290.8 1361.4,291.8 1359.1,292.8 1356.7,293.8 1354.3,294.8 1351.9,295.8 1349.5,296.8 1347.1,297.8 1344.7,298.8 1343.3,299.4"/><path d="M1644,180.5 1644,182.7 1644,184.9 1644,187.2 1644,189.4 1644,191.6 1644,193.8 1644,196 1644,198.3 1644,200.5 1644,202.7 1644,204.9 1644,207.1 1644,209.4 1644,211.6 1644,213.8 1644,216 1644,216.3"/><path d="M1664,180.5 1666.2,181.7 1668.3,183 1670.5,184.2 1672.6,185.4 1674.8,186.7 1677,187.9 1679.1,189.1 1681.3,190.4 1683.4,191.6 1685.6,192.8 1687.8,194.1 1689.9,195.3 1692.1,196.5 1694.3,197.8 1696.4,199 1698.6,200.2 1700.7,201.5 1702.9,202.7 1705.1,203.9 1707.2,205.2 1709.4,206.4 1711.5,207.6 1713.7,208.9 1715.9,210.1 1718,211.3 1720.2,212.6 1722.3,213.8 1724.5,215 1726.7,216.3 1728.8,217.5 1731,218.7 1733.1,220 1735.3,221.2 1737.5,222.4 1738.4,223"/><path d="M1679,180.5 1681.3,181.3 1683.6,182.1 1686,182.8 1688.3,183.6 1690.6,184.4 1692.9,185.2 1695.3,185.9 1697.6,186.7 1699.9,187.5 1702.2,188.3 1704.5,189 1706.9,189.8 1709.2,190.6 1711.5,191.4 1713.8,192.1 1716.1,192.9 1718.5,193.7 1720.8,194.5 1723.1,195.3 1725.4,196 1727.8,196.8 1730.1,197.6 1732.4,198.4 1734.7,199.1 1737,199.9 1739.4,200.7 1741.7,201.5 1744,202.2 1746.3,203 1748.6,203.8 1751,204.6 1753.3,205.3 1755.6,206.1 1757.9,206.9 1760.3,207.7 1762.6,208.4 1764.9,209.2 1767.2,210 1769.5,210.8 1771.9,211.6 1774.2,212.3 1776.5,213.1 1778.8,213.9 1781.2,214.7 1783.5,215.4 1785.8,216.2 1788.1,217 1790.4,217.8 1792.8,218.5 1795.1,219.3 1797.4,220.1 1799.7,220.9 1802,221.6 1804.4,222.4 1806.7,223.2 1809,224 1811.3,224.8 1813.7,225.5 1816,226.3 1818.3,227.1 1820.6,227.9 1820.4,227.8"/><path d="M96.8,328.7 99.1,329.2 101.5,329.7 103.8,330.2 106.1,330.7 108.5,331.2 110.8,331.7 113.1,332.2 115.5,332.7 117.8,333.2 120.1,333.8 122.4,334.3 124.8,334.8 127.1,335.3 129.4,335.8 131.8,336.3 134.1,336.8 136.4,337.3 138.8,337.8 141.1,338.3 143.4,338.8 145.8,339.3 148.1,339.8 150.4,340.3 152.8,340.8 155.1,341.3 157.4,341.8 159.8,342.3 162.1,342.9 164.4,343.4 166.7,343.9 169.1,344.4 171.4,344.9 173.7,345.4 176.1,345.9 178.4,346.4 180.7,346.9 183.1,347.4 185.4,347.9 187.7,348.4 190.1,348.9 192.4,349.4 194.7,349.9 197.1,350.4 199.4,350.9 201.7,351.4 204.1,352 206.4,352.5 208.7,353 211.1,353.5 213.4,354 215.7,354.5 218,355 220.4,355.5 222.7,356 225,356.5 227.4,357 229.7,357.5 232,358 234.4,358.5 236.7,359 239,359.5 241.4,360 243.7,360.5 246,361.1 248.4,361.6 250.7,362.1 253,362.6 255.4,363.1 257.7,363.6 260,364.1 262.3,364.6 264.7,365.1 267,365.6 269.3,366.1 271.7,366.6 274,367.1 276.3,367.6 278.7,368.1 281,368.6 283.3,369.1 285.7,369.6 288,370.2 290.3,370.7 292.7,371.2 295,371.7 297.3,372.2 299.7,372.7 302,373.2 304.3,373.7 306.6,374.2 309,374.7 311.3,375.2 313.6,375.7 316,376.2 315.8,376.2"/><path d="M80.3,330.2 82.2,330.9 84,331.6 85.9,332.4 87.8,333.1 89.6,333.8 91.5,334.5 93.4,335.3 95.2,336 97.1,336.7 99,337.5 100.8,338.2 102.7,338.9 104.6,339.6 106.4,340.4 108.3,341.1 110.2,341.8 112,342.6 113.9,343.3 115.7,344 117.6,344.7 119.5,345.5 121.3,346.2 123.2,346.9 125.1,347.6 126.9,348.4 128.8,349.1 130.7,349.8 132.6,350.5 134.4,351.2 136.3,351.9 138.2,352.6 140,353.3 141.9,354.1 143.8,354.8 145.7,355.5 147.5,356.2 149.4,356.9 151.3,357.6 153.2,358.2 155,358.9 156.9,359.6 158.8,360.3 160.7,361 162.6,361.7 164.4,362.4 166.3,363.1 168.2,363.8 170.1,364.5 171.9,365.2 173.8,365.9 175.7,366.6 177.6,367.3 179.5,368 181.3,368.7 183.2,369.4 185.1,370.1 187,370.8 188.8,371.4 190.7,372.1 192.6,372.8 194.5,373.5 196.4,374.2 198.3,374.8 200.2,375.5 202,376.2 203.9,376.8 205.8,377.5 207.7,378.1 209.6,378.8 211.5,379.4 213.4,380.1 215.3,380.7 217.2,381.3 219.1,382 221,382.6 222.9,383.2 224.8,383.8 226.7,384.4 228.7,385 230.6,385.6 232.5,386.1 234.4,386.7 236.3,387.3 238.2,387.8 240.2,388.4 242.1,388.9 244,389.4 246,390 247.9,390.5 249.8,391 251.8,391.5 253.7,392 255.7,392.5 257.6,392.9 259.5,393.4 261.5,393.9 263.4,394.4 265.4,394.8 267.3,395.3 269.3,395.8 271.2,396.2 273.2,396.7 275.1,397.1 277.1,397.5 279,398 281,398.4 282.9,398.9 284.9,399.3 286.9,399.7 288.8,400.1 290.8,400.6 292.7,401 294.7,401.4 296.6,401.9 298.6,402.3 300.6,402.7 302.5,403.1 304.5,403.6 306.4,404 308.4,404.4 310.3,404.8 312.3,405.3 314.2,405.7 316.2,406.1 318.2,406.6 320.1,407 322.1,407.4 324,407.9 326,408.3 327.9,408.8 329.9,409.2 331.8,409.6 333.8,410.1 335.7,410.5 337.7,410.9 339.7,411.3 341.6,411.8 343.6,412.2 345.5,412.6 347.5,413 349.4,413.5 351.4,413.9 353.4,414.3 355.3,414.7 357.3,415.1 359.2,415.5 361.2,415.9 363.2,416.3 365.1,416.7 367.1,417.1 369,417.5 371,417.9 373,418.3 374.9,418.7 376.9,419.1 378.9,419.5 380.8,419.9 382.8,420.2 384.8,420.6 386.7,421 388.7,421.4 390.7,421.7 392.6,422.1 394.6,422.5 396.6,422.9 398.5,423.2 400.5,423.6 402.5,424 404.4,424.3 406.4,424.7 408.4,425.1 410.3,425.4 412.3,425.8 414.3,426.1 416.2,426.5 418.2,426.8 420.2,427.2 422.2,427.6 424.1,427.9 426.1,428.3 428.1,428.6 430,429 432,429.3 434,429.7 436,430 437.9,430.3 439.9,430.7 441.9,431 443.9,431.4 445.8,431.7 447.8,432 449.8,432.4 451.7,432.7 453.7,433 455.7,433.4 457.7,433.7 459.6,434 461.6,434.3 463.6,434.7 465.6,435 467.6,435.3 469.5,435.6 471.5,435.9 473.5,436.2 475.5,436.5 477.4,436.9 479.4,437.2 481.4,437.5 483.4,437.8 485.4,438.1 487.3,438.4 489.3,438.6 491.3,438.9 493.3,439.2 495.3,439.5 497.2,439.8 499.2,440.1 501.2,440.3 503.2,440.6 505.2,440.9 507.2,441.1 509.1,441.4 511.1,441.7 513.1,441.9 515.1,442.2 517.1,442.5 519.1,442.7 521.1,443 523,443.2 525,443.5 527,443.7 529,444 531,444.3 533,444.5 535,444.8 536.9,445 538.9,445.3 540.9,445.5 542.9,445.8 544.9,446 546.9,446.3 548.9,446.5 550.9,446.8 552.8,447 554.8,447.3 556.8,447.5 558.8,447.8 560.8,448 562.8,448.3 564.8,448.5 566.7,448.8 568.7,449.1 570.7,449.3 572.7,449.6 574.7,449.9 576.7,450.1 578.6,450.4 580.6,450.7 582.6,450.9 584.6,451.2 586.6,451.5 588.6,451.7 590.5,452 592.5,452.3 594.5,452.6 596.5,452.8 598.5,453.1 600.5,453.4 602.4,453.6 604.4,453.9 606.4,454.2 608.4,454.5 610.4,454.7 612.4,455 614.3,455.3 616.3,455.6 618.3,455.8 620.3,456.1 622.3,456.4 624.3,456.7 626.2,456.9 628.2,457.2 630.2,457.5 632.2,457.8 634.2,458 636.2,458.3 638.1,458.6 640.1,458.9 642.1,459.1 642.3,459.2"/><path d="M893,328 891,328.3 889,328.6 887.1,328.9 885.1,329.1 883.1,329.4 881.1,329.7 879.1,330 877.1,330.3 875.2,330.6 873.2,330.9 871.2,331.1 869.2,331.4 867.2,331.7 865.2,332 863.3,332.3 861.3,332.6 859.3,332.9 857.3,333.2 855.3,333.4 853.3,333.7 851.4,334 849.4,334.3 847.4,334.6 845.4,334.9 843.4,335.2 841.4,335.4 839.5,335.7 837.5,336 835.5,336.3 833.5,336.6 831.5,336.9 829.6,337.2 827.6,337.5 825.6,337.7 823.6,338 821.6,338.3 819.6,338.6 817.7,338.9 815.7,339.2 813.7,339.5 811.7,339.7 809.7,340 807.7,340.3 805.8,340.6 803.8,340.9 801.8,341.2 799.8,341.5 797.8,341.7 795.8,342 793.9,342.3 791.9,342.6 789.9,342.9 787.9,343.2 785.9,343.5 783.9,343.7 782,344 780,344.3 778,344.6 776,344.9 774,345.2 772.1,345.5 770.1,345.8 768.1,346 766.1,346.3 764.1,346.6 762.1,346.9 760.2,347.2 758.2,347.5 756.2,347.8 754.2,348 752.2,348.3 750.2,348.6 748.3,348.9 746.3,349.2 744.3,349.5 742.3,349.8 740.3,350.1 738.4,350.4 736.4,350.7 734.4,351 732.4,351.3 730.4,351.6 728.5,351.9 726.5,352.2 724.5,352.5 722.5,352.8 720.5,353.1 718.5,353.4 716.6,353.6 714.6,353.9 712.6,354.2 710.6,354.4 708.6,354.7 706.6,355 704.6,355.2 702.7,355.5 700.7,355.7 698.7,356 696.7,356.2 694.7,356.4 692.7,356.7 690.7,356.9 688.7,357.1 686.7,357.4 684.8,357.6 682.8,357.8 680.8,358.1 678.8,358.3 676.8,358.5 674.8,358.7 672.8,359 670.8,359.2 668.8,359.4 666.8,359.6 664.8,359.8 662.9,360.1 660.9,360.3 658.9,360.5 656.9,360.7 654.9,360.9 652.9,361.1 650.9,361.4 648.9,361.6 646.9,361.8 644.9,362 642.9,362.2 640.9,362.4 639,362.6 637,362.8 635,363 633,363.3 631,363.5 629,363.7 627,363.9 625,364.1 623,364.3 621,364.5 619,364.7 617,364.9 615,365.1 613,365.3 611.1,365.5 609.1,365.7 607.1,365.9 605.1,366.1 603.1,366.3 601.1,366.6 599.1,366.8 597.1,367 595.1,367.2 593.1,367.4 591.1,367.6 589.1,367.8 587.1,368 585.1,368.2 583.2,368.4 581.2,368.6 579.2,368.8 577.2,369 575.2,369.2 573.2,369.4 571.2,369.6 569.2,369.8 567.2,370 565.2,370.2 563.2,370.4 561.2,370.6 559.2,370.8 557.2,371 555.2,371.2 553.3,371.4 551.3,371.6 549.3,371.8 547.3,372 545.3,372.2 543.3,372.4 541.3,372.6 539.3,372.8 537.3,373 535.3,373.2 533.3,373.4 531.3,373.6 529.3,373.8 527.3,374 525.3,374.2 523.4,374.4 521.4,374.6 519.4,374.8 517.4,375 515.4,375.2 513.4,375.4 511.4,375.6 509.4,375.8 507.4,376 505.4,376.2 503.4,376.4 501.4,376.6 499.4,376.8 497.4,377 495.4,377.2 493.5,377.4 491.5,377.6 489.5,377.8 487.5,378 485.5,378.2 483.5,378.4 481.5,378.6 479.5,378.8 477.5,379 475.5,379.2 473.5,379.4 471.5,379.6 469.5,379.8 467.5,380 465.5,380.2 463.6,380.4 461.6,380.6 459.6,380.8 457.6,381 455.6,381.2 453.6,381.4 451.6,381.6 449.6,381.8 447.6,382 445.6,382.2 443.6,382.4 441.6,382.6 439.6,382.8 437.6,383 435.7,383.2 435.4,383.2"/><path d="M942.6,330 942.6,332.2 942.6,334.4 942.6,336.6 942.6,338.9 942.6,341.1 942.6,343.3 942.6,345.5 942.6,347.7 942.6,349.9 942.6,352.2 942.6,354.4 942.6,356.6 942.6,358.8 942.6,361 942.6,363.2 942.6,365.5 942.6,365.7"/><path d="M923,330 921.3,331.1 919.7,332.2 918,333.3 916.3,334.4 914.7,335.5 913,336.6 911.3,337.7 909.6,338.8 907.9,339.9 906.2,340.9 904.5,342 902.8,343 901,344 899.3,345.1 897.6,346.1 895.9,347.1 894.2,348.1 892.4,349.2 890.7,350.2 889,351.2 887.3,352.2 885.5,353.2 883.8,354.2 882.1,355.3 880.3,356.3 878.6,357.3 876.9,358.3 875.1,359.3 873.4,360.3 871.7,361.3 870,362.3 868.2,363.3 866.5,364.3 864.8,365.3 863,366.4 861.3,367.4 859.5,368.4 857.8,369.4 856.1,370.4 854.3,371.4 852.6,372.4 850.9,373.4 849.1,374.4 847.4,375.4 845.7,376.4 843.9,377.4 842.2,378.4 840.5,379.4 838.7,380.4 837,381.4 835.2,382.4 833.5,383.4 831.8,384.4 830,385.4 828.3,386.4 826.6,387.4 824.8,388.4 823.1,389.4 821.3,390.4 819.6,391.4 817.9,392.4 816.1,393.4 814.4,394.4 812.6,395.4 810.9,396.4 809.2,397.4 807.4,398.4 805.7,399.3 803.9,400.3 802.2,401.3 800.5,402.3 798.7,403.3 797,404.3 795.2,405.3 793.5,406.3 791.8,407.3 790,408.3 788.3,409.3 786.5,410.3 784.8,411.3 783,412.3 781.3,413.2 779.6,414.2 777.8,415.2 776.1,416.2 774.3,417.2 772.6,418.2 770.8,419.2 769.1,420.1 767.3,421.1 765.6,422.1 763.8,423.1 762.1,424.1 760.3,425 758.6,426 756.9,427 755.1,428 753.4,429 751.6,429.9 749.9,430.9 748.1,431.9 746.4,432.9 744.6,433.9 742.9,434.8 741.1,435.8 739.4,436.8 737.6,437.8 735.9,438.8 734.1,439.7 732.4,440.7 730.6,441.7 728.9,442.7 727.1,443.6 725.4,444.6 725.6,444.5"/><path d="M423.7,404.1 426,404.6 428.4,405.2 430.7,405.7 433,406.2 435.3,406.7 437.7,407.3 440,407.8 442.3,408.3 444.7,408.8 447,409.4 449.3,409.9 451.7,410.4 454,410.9 456.3,411.5 458.6,412 461,412.5 463.3,413 465.6,413.6 468,414.1 470.3,414.6 472.6,415.1 475,415.7 477.3,416.2 479.6,416.7 481.9,417.2 484.3,417.8 486.6,418.3 488.9,418.8 491.3,419.3 493.6,419.9 495.9,420.4 498.2,420.9 500.6,421.4 502.9,422 505.2,422.5 507.6,423 509.9,423.5 512.2,424.1 514.6,424.6 516.9,425.1 519.2,425.7 521.5,426.2 523.9,426.7 526.2,427.2 528.5,427.8 530.9,428.3 533.2,428.8 535.5,429.3 537.9,429.9 540.2,430.4 542.5,430.9 544.8,431.4 547.2,432 549.5,432.5 551.8,433 554.2,433.5 556.5,434.1 558.8,434.6 561.1,435.1 563.5,435.6 565.8,436.2 568.1,436.7 570.5,437.2 572.8,437.7 575.1,438.3 577.5,438.8 579.8,439.3 582.1,439.8 584.4,440.4 586.8,440.9 589.1,441.4 591.4,441.9 593.8,442.5 596.1,443 598.4,443.5 600.8,444 603.1,444.6 605.4,445.1 607.7,445.6 610.1,446.2 612.4,446.7 614.7,447.2 617.1,447.7 619.4,448.3 621.7,448.8 624,449.3 626.4,449.8 628.7,450.4 631,450.9 633.4,451.4 635.7,451.9 638,452.5 640.4,453 642.7,453.5 642.5,453.5"/><path d="M901.5,405 898.9,405.7 896.4,406.5 893.8,407.2 891.3,407.9 888.7,408.7 886.2,409.4 883.6,410.1 881.1,410.9 878.5,411.6 876,412.4 873.4,413.1 870.9,413.8 868.3,414.6 865.8,415.3 863.2,416 860.7,416.8 858.1,417.5 855.6,418.2 853,419 850.5,419.7 847.9,420.4 845.4,421.2 842.8,421.9 840.2,422.7 837.7,423.4 835.1,424.1 832.6,424.9 830,425.6 827.5,426.3 824.9,427.1 822.4,427.8 819.8,428.5 817.3,429.3 814.7,430 812.2,430.7 809.6,431.5 807.1,432.2 804.5,433 802,433.7 799.4,434.4 796.9,435.2 794.3,435.9 791.8,436.6 789.2,437.4 786.6,438.1 784.1,438.8 781.5,439.6 779,440.3 776.4,441 773.9,441.8 771.3,442.5 768.8,443.3 766.2,444 763.7,444.7 761.1,445.5 758.6,446.2 756,446.9 753.5,447.7 750.9,448.4 748.4,449.1 745.8,449.9 745,450.1"/>
</g><g fill="#191970" stroke="#191970" stroke-width="1.33">
<polygon points="44.4,291.5 49.6,304.6 53.7,291.1"/><polygon points="314.8,383.4 328.8,381.5 316.7,374.3"/><polygon points="377,141.9 372.7,155.3 384.4,147.5"/><polygon points="471.4,142 476,155.3 480.6,142"/><polygon points="688.7,152.4 702.5,155.3 693.5,144.5"/><polygon points="819.4,292.6 826.4,304.8 828.5,290.9"/><polygon points="1306.4,92.8 1320,89.2 1307.1,83.5"/><polygon points="431.3,149.3 418.5,155.3 432.2,158.6"/><polygon points="523.3,158.2 510.4,164 524.1,167.5"/><polygon points="763,157.5 750.3,163.5 764,166.7"/><polygon points="1119,149.6 1107.2,157.4 1121.2,158.7"/><polygon points="1202.7,146.3 1192,155.4 1206.1,154.9"/><polygon points="1274.9,143.8 1267,155.4 1280.5,151.2"/><polygon points="1345.8,142 1350.5,155.3 1355.2,142"/><polygon points="1373.2,217 1367,229.6 1379.7,223.6"/><polygon points="1461.5,220.2 1472,229.6 1469.6,215.7"/><polygon points="1348.2,305 1335.5,311 1349.2,314.2"/><polygon points="1584,156.6 1598,155.3 1586.2,147.6"/><polygon points="1700.1,158.4 1714,156 1701.7,149.2"/><polygon points="1923.2,159.9 1937.1,157.6 1924.8,150.8"/><polygon points="2029.7,158.2 2043.5,155.5 2031,149"/><polygon points="2140.9,159.3 2154.8,157 2142.5,150.1"/><polygon points="745.3,459.5 732.2,464.6 745.6,468.8"/><polygon points="1007.4,216.8 1012.7,229.9 1016.7,216.4"/><polygon points="842.1,290.6 839.8,304.5 850.2,295"/><polygon points="309,220.8 298,229.6 312.1,229.5"/><polygon points="439,189.3 450,180.5 435.9,180.6"/><polygon points="777.9,314.9 791.6,311.7 778.9,305.6"/><polygon points="582.8,220.7 572.2,230 586.3,229.3"/><polygon points="674.9,216.8 670,230 682.1,222.8"/><polygon points="808.4,296.5 820,304.5 816,291"/><polygon points="971.8,235.1 985.8,233.6 973.9,226"/><polygon points="1247.9,306.8 1262,306 1250.5,297.9"/><polygon points="662.8,448.5 676,453.5 668.8,441.4"/><polygon points="97.2,295.9 86,304.4 100.1,304.7"/><polygon points="257.1,290.4 259,304.4 266.2,292.3"/><polygon points="394,303.3 408,304.4 397.7,294.8"/><polygon points="637.1,312.4 651,310 638.7,303.2"/><polygon points="1222.3,220 1212,229.6 1226.1,228.6"/><polygon points="1347.8,216.5 1353,229.6 1357.1,216.1"/><polygon points="852,292.1 845.4,304.5 858.3,298.9"/><polygon points="717.5,295.5 705.9,303.5 720,304.4"/><polygon points="870.9,295.3 860.2,304.5 874.3,304"/><polygon points="959.9,291.7 954,304.5 966.6,298.1"/><polygon points="966.4,366.1 960.7,379 973.2,372.5"/><polygon points="1248,306.8 1262,305.5 1250.2,297.7"/><polygon points="884.5,297.6 873.2,306 887.3,306.5"/><polygon points="1341.5,295.1 1331,304.5 1345.1,303.7"/><polygon points="1639.3,216.3 1644,229.6 1648.7,216.3"/><polygon points="1736.1,227 1750,229.6 1740.8,219"/><polygon points="1818.9,232.2 1833,232 1821.9,223.4"/><polygon points="314.8,380.7 328.8,379 316.8,371.6"/><polygon points="641.7,463.8 655.5,461 643,454.6"/><polygon points="435,378.6 422.2,384.6 435.9,387.9"/><polygon points="938,365.7 942.6,379 947.2,365.7"/><polygon points="723.3,440.4 714,451 727.9,448.5"/><polygon points="641.5,458 655.5,456.4 643.5,448.9"/><polygon points="743.7,445.6 732.2,453.8 746.3,454.6"/>
</g>
<rect x="423.5" y="6" width="104.3" height="25" fill="#bfbfbf" stroke="#000" stroke-width="1.33"/>
<text transform="translate(475.6,21.95) scale(0.986,1.06)" text-anchor="middle">abstractin.cpp</text>
<rect x="1320" y="80.6" width="61.2" height="25" fill="#fff" stroke="#000" stroke-width="1.33"/>
<text transform="translate(1350.6,96.60) scale(0.986,1.06)" text-anchor="middle">main.h</text>
<rect x="304.1" y="155.2" width="114.1" height="25" fill="#fff" stroke="#bfbfbf" stroke-width="1.33"/>
<text transform="translate(361.1,171.25) scale(0.986,1.06)" text-anchor="middle">PubSubClient.h</text>
<rect x="441.3" y="155.2" width="69.1" height="25" fill="#fff" stroke="#000" stroke-width="1.33"/>
<text transform="translate(475.9,171.25) scale(0.986,1.06)" text-anchor="middle">inputs.h</text>
<rect x="692.6" y="155.2" width="57.7" height="25" fill="#fff" stroke="#000" stroke-width="1.33"/>
<text transform="translate(721.5,171.25) scale(0.986,1.06)" text-anchor="middle">utils.h</text>
<rect x="1041.8" y="155.2" width="65.4" height="25" fill="#fff" stroke="#bfbfbf" stroke-width="1.33"/>
<text transform="translate(1074.5,171.25) scale(0.986,1.06)" text-anchor="middle">string.h</text>
<rect x="1131.8" y="155.2" width="61.6" height="25" fill="#fff" stroke="#bfbfbf" stroke-width="1.33"/>
<text transform="translate(1162.6,171.25) scale(0.986,1.06)" text-anchor="middle">Cmd.h</text>
<rect x="1216.8" y="155.2" width="69.6" height="25" fill="#fff" stroke="#bfbfbf" stroke-width="1.33"/>
<text transform="translate(1251.6,171.25) scale(0.986,1.06)" text-anchor="middle">stdarg.h</text>
<rect x="1311" y="155.2" width="79.3" height="25" fill="#fff" stroke="#000" stroke-width="1.33"/>
<text transform="translate(1350.7,171.25) scale(0.986,1.06)" text-anchor="middle">owTerm.h</text>
<rect x="1598.1" y="155.2" width="91.3" height="25" fill="#fff" stroke="#000" stroke-width="1.33"/>
<text transform="translate(1643.8,171.25) scale(0.986,1.06)" text-anchor="middle">streamlog.h</text>
<rect x="1713.7" y="155.2" width="118.6" height="25" fill="#fff" stroke="#bfbfbf" stroke-width="1.33"/>
<text transform="translate(1773,171.25) scale(0.986,1.06)" text-anchor="middle">ModbusMaster.h</text>
<rect x="1937.3" y="155.2" width="82.5" height="25" fill="#fff" stroke="#bfbfbf" stroke-width="1.33"/>
<text transform="translate(1978.5,171.25) scale(0.986,1.06)" text-anchor="middle">Ethernet.h</text>
<rect x="2044.1" y="155.2" width="87.4" height="25" fill="#fff" stroke="#000" stroke-width="1.33"/>
<text transform="translate(2087.8,171.25) scale(0.986,1.06)" text-anchor="middle">textconst.h</text>
<rect x="2154.9" y="155.2" width="55.6" height="25" fill="#fff" stroke="#bfbfbf" stroke-width="1.33"/>
<text transform="translate(2182.7,171.25) scale(0.986,1.06)" text-anchor="middle">SPI.h</text>
<rect x="170.5" y="229.9" width="202.4" height="25" fill="#fff" stroke="#000" stroke-width="1.33"/>
<text transform="translate(271.7,245.90) scale(0.986,1.06)" text-anchor="middle">modules/in_ccs811_hdc1080.h</text>
<rect x="499" y="229.9" width="92.4" height="25" fill="#fff" stroke="#bfbfbf" stroke-width="1.33"/>
<text transform="translate(545.2,245.90) scale(0.986,1.06)" text-anchor="middle">Streaming.h</text>
<rect x="614.8" y="229.9" width="92.5" height="25" fill="#fff" stroke="#bfbfbf" stroke-width="1.33"/>
<text transform="translate(661,245.90) scale(0.986,1.06)" text-anchor="middle">IPAddress.h</text>
<rect x="985.3" y="229.9" width="58.9" height="25" fill="#fff" stroke="#000" stroke-width="1.33"/>
<text transform="translate(1014.8,245.90) scale(0.986,1.06)" text-anchor="middle">item.h</text>
<rect x="1118.3" y="229.9" width="139" height="25" fill="#fff" stroke="#bfbfbf" stroke-width="1.33"/>
<text transform="translate(1187.8,245.90) scale(0.986,1.06)" text-anchor="middle">DS2482_OneWire.h</text>
<rect x="1282" y="229.9" width="142.6" height="25" fill="#fff" stroke="#bfbfbf" stroke-width="1.33"/>
<text transform="translate(1353.3,245.90) scale(0.986,1.06)" text-anchor="middle">DallasTemperature.h</text>
<rect x="1449.5" y="229.9" width="58.8" height="25" fill="#fff" stroke="#000" stroke-width="1.33"/>
<text transform="translate(1478.9,245.90) scale(0.986,1.06)" text-anchor="middle">dmx.h</text>
<rect x="1582.2" y="229.9" width="123.1" height="25" fill="#fff" stroke="#bfbfbf" stroke-width="1.33"/>
<text transform="translate(1643.8,245.90) scale(0.986,1.06)" text-anchor="middle">HardwareSerial.h</text>
<rect x="1729.6" y="229.9" width="78.9" height="25" fill="#fff" stroke="#bfbfbf" stroke-width="1.33"/>
<text transform="translate(1769,245.90) scale(0.986,1.06)" text-anchor="middle">inttypes.h</text>
<rect x="1832.3" y="229.9" width="60.3" height="25" fill="#fff" stroke="#bfbfbf" stroke-width="1.33"/>
<text transform="translate(1862.4,245.90) scale(0.986,1.06)" text-anchor="middle">Print.h</text>
<rect x="4.5" y="304.6" width="91.6" height="25" fill="#fff" stroke="#000" stroke-width="1.33"/>
<text transform="translate(50.3,320.55) scale(0.986,1.06)" text-anchor="middle">abstractin.h</text>
<rect x="170.2" y="304.6" width="171.4" height="25" fill="#fff" stroke="#bfbfbf" stroke-width="1.33"/>
<text transform="translate(255.9,320.55) scale(0.986,1.06)" text-anchor="middle">ClosedCube_HDC1080.h</text>
<rect x="364.8" y="304.6" width="139.6" height="25" fill="#fff" stroke="#bfbfbf" stroke-width="1.33"/>
<text transform="translate(434.6,320.55) scale(0.986,1.06)" text-anchor="middle">SparkFunCCS811.h</text>
<rect x="650.9" y="304.6" width="60.3" height="25" fill="#fff" stroke="#bfbfbf" stroke-width="1.33"/>
<text transform="translate(681,320.55) scale(0.986,1.06)" text-anchor="middle">Wire.h</text>
<rect x="792.6" y="304.6" width="75.9" height="25" fill="#fff" stroke="#bfbfbf" stroke-width="1.33"/>
<text transform="translate(830.5,320.55) scale(0.986,1.06)" text-anchor="middle">aJSON.h</text>
<rect x="893.2" y="304.6" width="99" height="25" fill="#fff" stroke="#000" stroke-width="1.33"/>
<text transform="translate(942.7,320.55) scale(0.986,1.06)" text-anchor="middle">abstractout.h</text>
<rect x="1261.2" y="304.6" width="74.9" height="25" fill="#fff" stroke="#000" stroke-width="1.33"/>
<text transform="translate(1298.7,320.55) scale(0.986,1.06)" text-anchor="middle">options.h</text>
<rect x="328.1" y="379.2" width="95.2" height="25" fill="#fff" stroke="#000" stroke-width="1.33"/>
<text transform="translate(375.7,395.20) scale(0.986,1.06)" text-anchor="middle">abstractch.h</text>
<rect x="899.2" y="379.2" width="87" height="25" fill="#fff" stroke="#000" stroke-width="1.33"/>
<text transform="translate(942.7,395.20) scale(0.986,1.06)" text-anchor="middle">itemCmd.h</text>
<rect x="654.5" y="453.9" width="77.3" height="25" fill="#fff" stroke="#bfbfbf" stroke-width="1.33"/>
<text transform="translate(693.1,469.85) scale(0.986,1.06)" text-anchor="middle">Arduino.h</text>
</svg></body></html>
